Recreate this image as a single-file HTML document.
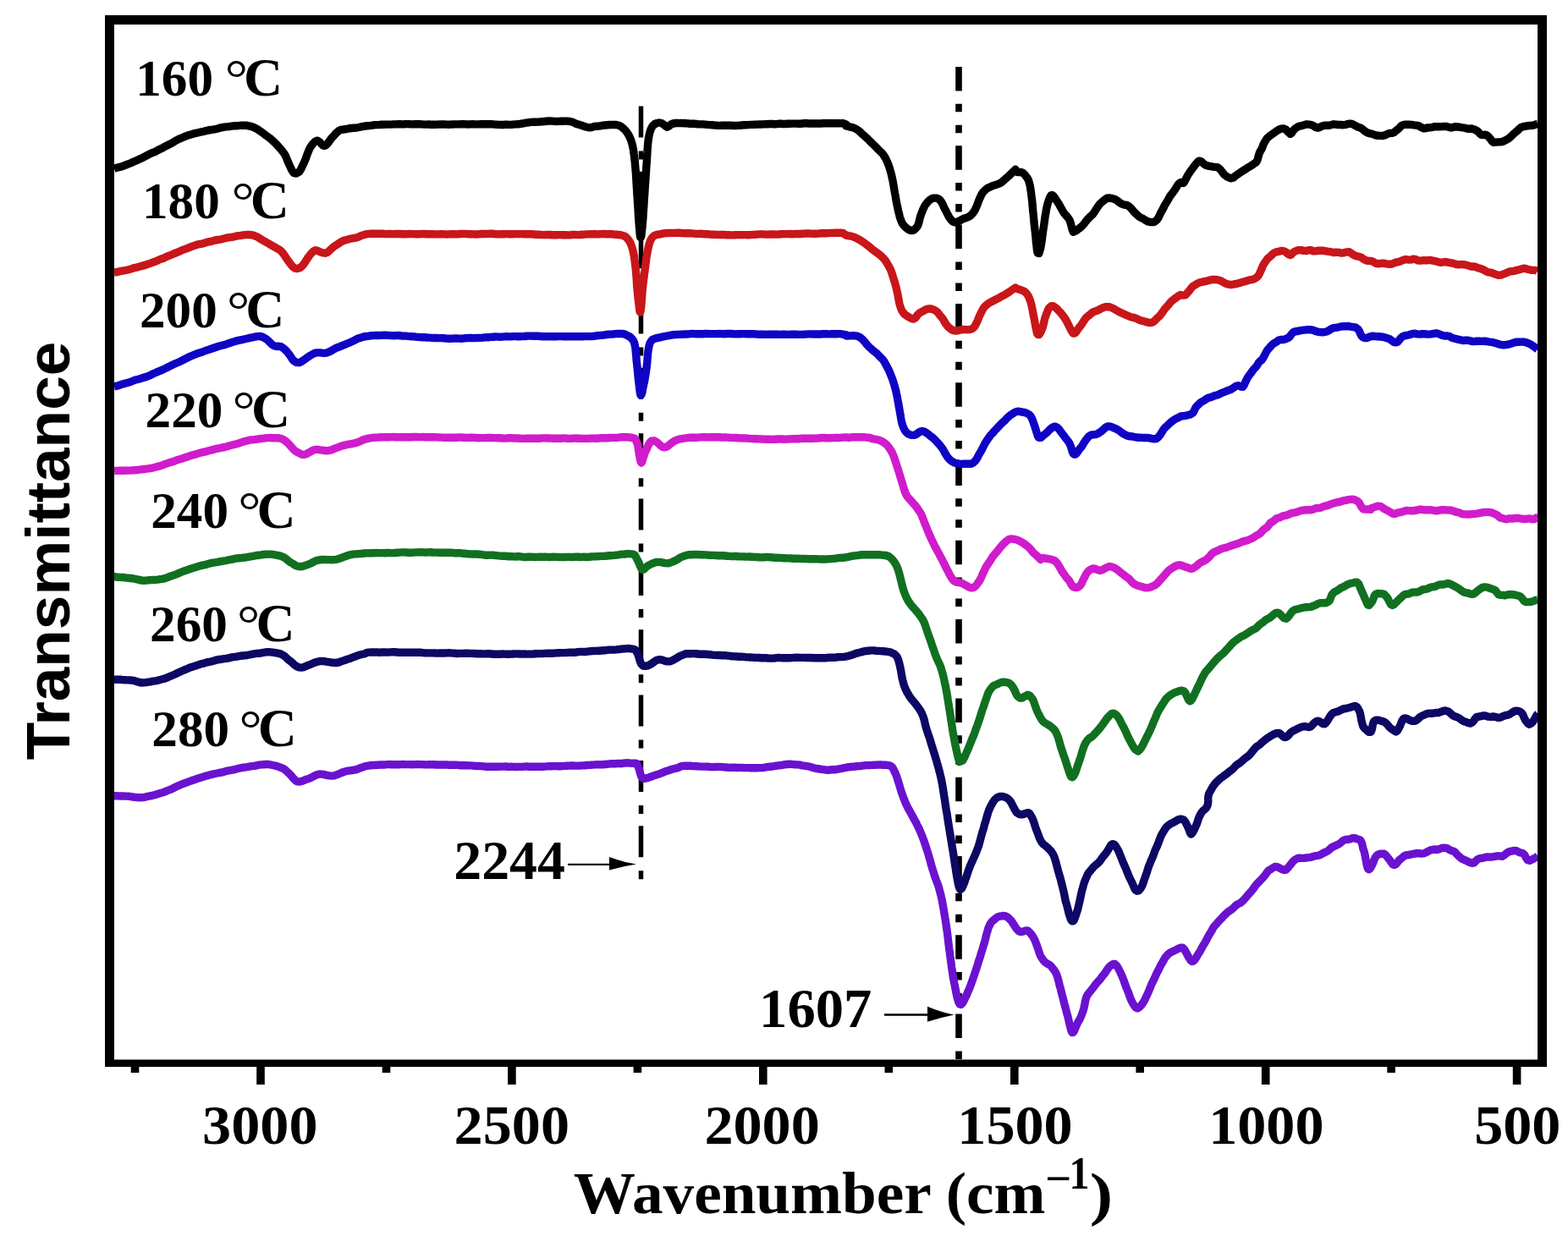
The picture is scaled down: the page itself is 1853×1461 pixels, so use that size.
<!DOCTYPE html>
<html><head><meta charset="utf-8"><title>FTIR spectra</title>
<style>html,body{margin:0;padding:0;background:#fff;overflow:hidden}svg{display:block;filter:blur(0.45px)}</style>
</head><body>
<svg xmlns="http://www.w3.org/2000/svg" width="1853" height="1461" viewBox="0 0 1853 1461"><line x1="757.5" y1="125.5" x2="757.5" y2="1039.5" stroke="#000" stroke-width="5.5" stroke-dasharray="37 16 10 14.34"/>
<line x1="1133" y1="79" x2="1133" y2="1252" stroke="#000" stroke-width="7.6" stroke-dasharray="28.5 15.3 9.5 15.5 9.5 15"/>
<path d="M134.9,199.3 L136.4,198.8 L138.3,198.1 L140.5,197.7 L143.1,197.1 L145.8,196.1 L148.7,195.0 L151.5,193.9 L154.3,192.9 L156.6,191.8 L158.9,190.7 L161.4,189.8 L163.9,188.6 L166.4,187.4 L169.0,186.2 L171.5,184.8 L174.0,183.5 L176.3,182.3 L178.6,181.2 L181.3,180.2 L183.8,179.1 L186.2,177.7 L188.6,176.5 L190.9,175.4 L193.3,174.2 L195.6,172.9 L198.0,171.7 L200.4,170.5 L202.7,169.3 L205.0,168.0 L207.3,166.6 L209.6,165.2 L212.1,164.1 L214.7,163.0 L217.4,161.9 L219.7,160.9 L222.2,160.0 L224.7,159.2 L227.4,158.4 L230.0,157.7 L232.7,157.2 L235.4,156.5 L238.1,155.8 L240.7,155.3 L243.3,154.7 L246.1,154.0 L248.9,153.5 L251.8,153.1 L254.6,152.6 L257.3,152.0 L260.0,151.2 L262.7,150.6 L265.2,150.1 L267.6,149.9 L270.6,149.6 L273.4,149.1 L276.2,148.8 L278.8,148.8 L281.2,148.6 L283.4,148.4 L285.4,148.2 L289.0,148.1 L291.5,148.3 L294.0,148.8 L296.6,149.4 L299.0,150.2 L301.6,151.3 L303.7,152.5 L305.8,153.9 L308.0,155.4 L310.2,156.9 L312.4,158.6 L314.6,160.3 L316.7,161.8 L318.9,163.4 L321.1,165.3 L323.2,167.2 L325.4,169.2 L327.5,171.5 L329.3,173.5 L331.1,175.4 L332.8,177.5 L334.5,179.6 L336.1,181.9 L337.3,184.0 L338.4,186.4 L339.4,188.9 L340.3,191.3 L341.3,193.6 L342.2,195.5 L343.5,198.2 L344.8,201.0 L346.1,203.1 L347.4,204.5 L350.3,205.0 L353.4,203.2 L354.6,201.7 L355.8,199.7 L356.9,197.3 L358.1,194.8 L359.4,192.0 L360.3,189.9 L361.3,187.6 L362.2,184.9 L363.2,182.1 L364.3,179.4 L365.3,176.8 L366.4,174.6 L368.4,171.6 L370.6,169.0 L372.8,167.1 L375.0,166.2 L377.1,167.3 L379.3,169.6 L381.4,171.7 L383.6,172.4 L385.3,171.5 L387.1,169.7 L388.8,167.4 L390.6,164.9 L392.3,162.7 L394.5,160.4 L396.6,158.0 L398.8,155.9 L400.9,154.3 L403.4,153.2 L406.0,153.0 L409.5,152.5 L411.9,152.0 L414.8,151.5 L417.9,151.3 L421.0,151.1 L424.1,150.5 L426.8,149.9 L429.5,149.3 L431.6,149.0 L433.8,148.8 L436.4,148.6 L440.0,148.2 L441.9,147.8 L444.0,147.6 L446.2,147.6 L448.4,147.5 L450.8,147.3 L453.4,147.2 L456.1,147.1 L458.9,147.1 L462.0,147.1 L465.2,146.9 L468.6,146.9 L470.7,146.8 L472.9,146.8 L475.1,146.9 L477.5,146.8 L479.9,146.6 L482.4,146.6 L485.0,146.8 L487.6,146.9 L490.3,146.8 L492.9,146.7 L495.7,146.8 L498.4,146.9 L501.1,147.1 L503.8,147.1 L506.5,147.0 L509.2,147.2 L511.9,147.3 L514.5,147.2 L517.1,147.1 L519.7,147.0 L522.3,147.0 L524.9,147.0 L527.5,147.1 L530.1,147.2 L532.7,147.1 L535.3,147.0 L538.0,146.9 L540.6,146.9 L543.2,146.9 L545.8,146.8 L548.4,146.8 L550.9,146.9 L553.5,147.0 L556.0,146.9 L558.5,146.8 L560.9,146.9 L563.3,146.9 L565.7,146.9 L568.5,146.7 L571.3,146.6 L574.0,146.7 L576.8,146.8 L579.5,146.7 L582.2,146.8 L584.9,147.1 L587.5,147.3 L590.0,147.4 L592.6,147.5 L595.0,147.5 L597.4,147.3 L599.7,147.3 L602.0,147.4 L604.1,147.4 L606.2,147.1 L609.5,146.9 L612.4,146.8 L615.0,146.4 L617.3,146.0 L619.6,145.7 L621.9,145.2 L624.4,144.8 L627.3,144.4 L630.5,144.2 L632.7,144.2 L635.1,144.1 L637.7,144.0 L640.5,143.8 L643.3,143.5 L646.2,143.2 L649.1,143.0 L652.1,143.1 L654.9,143.4 L657.7,143.5 L660.4,143.4 L663.0,143.3 L665.3,143.2 L667.4,143.1 L669.3,143.1 L673.5,143.5 L676.3,144.2 L678.2,145.0 L680.0,146.0 L682.3,146.8 L684.7,147.4 L687.3,148.2 L689.9,149.2 L692.4,150.0 L694.7,150.5 L696.8,150.8 L699.4,150.6 L701.3,149.7 L704.9,149.1 L706.9,149.2 L709.3,148.8 L712.0,148.3 L714.9,148.0 L717.9,147.7 L720.8,147.5 L723.6,147.5 L726.2,147.4 L728.3,147.5 L731.4,148.3 L733.8,149.5 L735.8,151.0 L737.6,152.7 L739.4,154.5 L740.9,156.5 L742.3,158.6 L743.6,160.8 L744.7,163.4 L745.8,166.1 L746.8,169.3 L747.4,171.7 L747.9,174.1 L748.4,176.5 L748.8,179.1 L749.1,181.6 L749.5,184.2 L749.8,187.3 L750.2,190.6 L750.5,194.0 L750.7,196.3 L750.9,198.7 L751.1,201.0 L751.3,203.5 L751.5,206.0 L751.7,208.7 L751.8,211.4 L752.0,214.3 L752.2,217.2 L752.3,220.0 L752.5,222.8 L752.7,225.6 L752.8,228.4 L753.0,231.1 L753.2,233.8 L753.4,236.4 L753.5,239.1 L753.7,242.0 L753.9,245.0 L754.1,247.8 L754.3,250.8 L754.4,253.8 L754.6,256.6 L754.8,259.1 L754.9,261.4 L755.1,263.7 L755.3,266.0 L755.4,267.9 L755.8,272.3 L756.1,276.1 L756.4,278.8 L756.7,280.4 L757.0,280.9 L757.4,280.4 L757.8,278.8 L758.2,275.9 L758.6,272.1 L759.1,267.7 L759.3,266.0 L759.4,263.7 L759.6,261.5 L759.8,259.2 L760.0,256.5 L760.1,253.7 L760.3,250.8 L760.5,247.9 L760.7,245.1 L760.9,242.3 L761.1,239.4 L761.2,236.5 L761.4,233.7 L761.6,231.1 L761.8,228.6 L762.0,225.8 L762.1,223.0 L762.3,220.1 L762.5,217.3 L762.7,214.6 L762.9,212.1 L763.0,209.4 L763.2,206.8 L763.4,204.2 L763.6,201.6 L763.7,199.0 L763.9,196.5 L764.1,194.1 L764.3,191.2 L764.5,188.3 L764.6,185.5 L764.8,182.7 L765.0,179.7 L765.1,177.0 L765.3,174.5 L765.5,172.2 L765.7,169.6 L766.0,167.2 L766.2,165.1 L766.5,163.2 L767.2,159.5 L767.9,156.5 L768.7,154.1 L769.6,151.9 L770.5,150.1 L771.5,148.6 L773.9,146.5 L776.6,145.5 L779.0,145.0 L781.7,145.5 L784.0,146.9 L786.3,148.8 L788.5,150.3 L790.7,149.0 L793.0,147.0 L795.6,146.0 L799.0,145.5 L800.5,145.5 L801.8,145.6 L804.5,145.5 L810.0,145.7 L811.7,145.9 L813.5,146.0 L815.6,146.2 L817.8,146.3 L820.1,146.3 L822.6,146.5 L825.1,146.9 L827.8,146.9 L830.6,146.9 L833.4,147.1 L836.2,147.4 L839.1,147.6 L842.0,147.8 L844.9,148.1 L847.7,148.3 L850.5,148.4 L853.3,148.3 L856.0,148.3 L858.6,148.3 L861.2,148.2 L863.7,148.3 L866.3,148.5 L868.8,148.5 L871.4,148.4 L873.9,148.3 L876.5,148.0 L879.0,147.8 L881.6,147.8 L884.1,147.6 L886.7,147.4 L889.2,147.4 L891.8,147.2 L894.3,147.1 L896.9,147.0 L899.4,147.0 L902.0,146.9 L904.5,146.8 L907.1,146.7 L909.7,146.5 L912.3,146.5 L914.9,146.7 L917.5,146.7 L920.1,146.3 L922.7,146.3 L925.3,146.5 L928.0,146.5 L930.6,146.3 L933.2,146.2 L935.8,146.1 L938.4,146.1 L940.9,146.1 L943.5,146.2 L946.0,146.2 L948.5,146.0 L950.9,145.8 L953.3,145.8 L955.7,146.0 L958.5,146.0 L961.4,145.9 L964.3,146.0 L967.3,146.0 L970.2,146.0 L973.1,145.8 L976.0,145.7 L978.8,145.7 L981.5,145.8 L984.1,145.8 L986.5,145.7 L988.8,145.7 L991.0,145.8 L992.9,145.9 L994.7,145.8 L996.2,145.7 L1000.0,147.2 L1000.0,149.0 L1002.2,149.5 L1005.0,150.1 L1007.9,150.8 L1010.8,152.0 L1013.0,153.3 L1015.1,154.8 L1017.3,156.8 L1019.4,158.9 L1021.6,160.7 L1023.4,162.3 L1025.2,164.0 L1027.0,165.8 L1028.8,167.6 L1030.6,169.4 L1032.4,171.1 L1034.3,172.9 L1036.2,175.0 L1038.1,176.9 L1039.9,178.6 L1041.7,180.3 L1043.2,181.9 L1044.8,184.2 L1046.2,186.5 L1047.4,188.9 L1048.5,191.2 L1049.6,193.9 L1050.5,196.4 L1051.3,198.8 L1052.0,201.3 L1052.7,203.8 L1053.4,206.3 L1054.0,208.9 L1054.6,211.7 L1055.2,214.5 L1055.7,217.4 L1056.2,220.3 L1056.7,223.4 L1057.2,226.3 L1057.6,228.6 L1058.1,231.1 L1058.5,233.7 L1058.9,236.4 L1059.4,238.8 L1059.9,241.2 L1060.4,243.8 L1061.0,246.4 L1061.5,249.0 L1062.1,251.6 L1062.8,254.1 L1063.4,256.6 L1064.1,258.8 L1064.8,260.8 L1066.4,264.2 L1068.2,266.6 L1070.2,268.6 L1072.6,270.6 L1075.2,272.1 L1077.7,272.6 L1080.0,271.9 L1082.2,270.0 L1084.2,267.4 L1085.2,265.3 L1086.0,262.5 L1086.7,259.5 L1087.5,256.4 L1088.5,253.5 L1089.6,250.6 L1090.8,247.6 L1092.1,244.8 L1093.5,242.3 L1095.0,240.3 L1097.0,238.0 L1099.2,236.0 L1101.5,234.7 L1103.6,234.1 L1106.3,234.1 L1108.9,234.9 L1111.2,236.9 L1112.7,239.0 L1114.0,241.4 L1115.2,244.2 L1116.6,247.1 L1117.8,249.2 L1119.1,251.8 L1120.5,254.6 L1121.8,256.9 L1123.0,258.7 L1125.6,261.7 L1128.4,262.9 L1130.7,262.5 L1133.2,261.3 L1136.0,259.8 L1138.4,258.6 L1140.9,257.8 L1143.5,256.9 L1145.7,255.7 L1147.6,254.2 L1149.2,252.5 L1150.7,250.6 L1152.2,248.2 L1153.3,245.8 L1154.4,243.3 L1155.4,240.6 L1156.5,237.6 L1157.6,234.9 L1158.8,232.4 L1160.0,229.8 L1161.3,227.7 L1162.6,226.2 L1164.1,224.7 L1166.7,222.6 L1169.6,221.2 L1172.7,219.8 L1175.3,218.9 L1178.1,218.1 L1180.9,217.0 L1183.5,215.6 L1185.8,213.7 L1188.0,211.6 L1190.1,209.7 L1192.1,208.1 L1194.3,205.9 L1196.5,203.7 L1198.5,201.8 L1200.0,200.3 L1201.5,203.3 L1203.6,203.6 L1206.4,203.5 L1209.0,204.5 L1210.8,206.3 L1212.5,208.4 L1214.1,210.5 L1215.5,213.2 L1216.2,215.6 L1216.8,217.9 L1217.4,220.5 L1217.8,223.4 L1218.3,226.3 L1218.7,229.5 L1219.0,232.0 L1219.3,234.3 L1219.6,236.5 L1219.9,239.3 L1220.1,242.3 L1220.4,245.2 L1220.6,248.2 L1220.9,251.0 L1221.2,253.4 L1221.4,256.0 L1221.7,258.7 L1221.9,261.6 L1222.2,264.5 L1222.5,267.0 L1222.8,269.7 L1223.1,272.6 L1223.4,275.0 L1223.7,277.9 L1224.0,281.1 L1224.3,284.5 L1224.6,287.7 L1225.0,290.6 L1225.3,293.8 L1225.6,296.7 L1226.0,298.3 L1226.3,299.1 L1227.9,299.4 L1229.5,294.2 L1229.9,292.3 L1230.3,289.8 L1230.7,287.4 L1231.1,284.7 L1231.6,281.3 L1232.0,277.9 L1232.4,275.0 L1232.8,272.2 L1233.2,269.4 L1233.6,266.7 L1234.0,264.0 L1234.4,261.1 L1234.8,258.0 L1235.2,255.2 L1235.6,253.1 L1236.0,250.9 L1236.6,247.2 L1237.3,243.9 L1237.9,241.3 L1238.6,239.1 L1239.3,237.0 L1240.6,233.5 L1242.0,230.9 L1243.6,230.6 L1245.0,231.8 L1246.6,233.9 L1248.3,236.6 L1250.0,239.1 L1251.5,241.3 L1253.0,244.2 L1254.6,247.1 L1256.1,249.8 L1257.6,252.1 L1259.4,254.1 L1261.1,256.1 L1262.7,258.1 L1264.1,260.4 L1265.1,263.3 L1266.0,266.7 L1266.8,270.0 L1267.6,272.6 L1268.4,274.3 L1272.7,272.0 L1274.5,270.6 L1276.6,269.1 L1278.9,267.0 L1281.3,264.3 L1283.0,262.0 L1284.8,259.8 L1286.7,257.8 L1288.6,255.8 L1290.4,254.2 L1292.1,252.4 L1294.0,249.6 L1295.8,246.7 L1297.5,244.1 L1299.2,241.7 L1300.8,240.0 L1303.3,237.9 L1305.7,236.0 L1308.3,234.3 L1311.4,234.0 L1314.8,234.7 L1318.0,235.7 L1320.3,237.2 L1322.5,239.0 L1324.6,240.4 L1326.7,241.5 L1329.3,242.2 L1331.7,242.5 L1334.2,243.8 L1336.1,245.6 L1337.9,247.7 L1339.8,250.1 L1341.8,252.1 L1343.9,254.0 L1346.0,255.9 L1348.1,257.3 L1350.4,258.3 L1352.8,259.7 L1355.4,261.4 L1357.9,262.2 L1360.1,262.6 L1363.6,262.5 L1366.6,260.5 L1368.0,258.9 L1369.3,256.8 L1370.6,253.9 L1372.0,250.9 L1373.2,249.0 L1374.5,246.6 L1375.8,243.9 L1377.1,241.4 L1378.5,239.2 L1379.9,237.0 L1381.4,234.2 L1382.8,231.7 L1384.4,229.7 L1386.0,227.6 L1387.8,225.2 L1389.8,222.0 L1391.7,218.9 L1393.5,216.8 L1395.0,215.6 L1398.6,216.4 L1399.8,214.6 L1401.2,211.9 L1402.7,209.0 L1404.4,206.0 L1406.2,203.3 L1407.8,201.1 L1409.6,198.7 L1411.5,196.1 L1413.4,193.7 L1415.3,191.5 L1417.0,190.1 L1419.2,190.5 L1421.2,192.3 L1423.2,194.2 L1425.6,195.5 L1428.0,196.2 L1430.7,196.6 L1433.5,197.1 L1436.2,197.4 L1438.6,197.7 L1441.1,199.4 L1443.2,201.7 L1445.2,204.4 L1447.2,206.8 L1449.8,208.7 L1452.2,209.9 L1454.8,210.8 L1457.5,210.0 L1460.3,207.7 L1463.4,205.4 L1465.4,204.2 L1467.6,202.7 L1469.9,201.2 L1472.1,199.9 L1474.2,198.3 L1476.8,196.9 L1479.4,195.3 L1481.8,193.6 L1483.9,192.3 L1485.3,190.8 L1486.4,187.7 L1487.3,184.1 L1488.3,181.0 L1489.3,178.8 L1490.3,177.2 L1491.3,175.6 L1492.3,172.8 L1493.4,169.8 L1494.7,167.6 L1496.2,165.3 L1497.8,162.9 L1499.5,161.4 L1501.4,160.1 L1503.3,158.6 L1506.0,156.8 L1508.9,154.7 L1511.7,153.0 L1514.1,152.1 L1517.1,151.9 L1519.5,153.0 L1522.2,156.0 L1524.9,158.3 L1526.5,157.2 L1528.1,154.7 L1530.3,152.2 L1532.7,150.4 L1535.5,149.1 L1538.4,148.6 L1541.1,147.7 L1544.2,146.9 L1547.0,147.2 L1549.7,147.6 L1552.2,148.7 L1554.6,150.4 L1557.3,151.1 L1559.8,150.4 L1562.5,149.0 L1565.3,148.2 L1568.1,148.3 L1570.8,148.2 L1573.5,147.5 L1576.2,146.8 L1578.9,147.1 L1581.7,147.5 L1584.5,147.5 L1587.3,147.7 L1590.0,147.4 L1592.6,146.6 L1595.2,146.1 L1597.7,146.4 L1600.1,147.6 L1602.4,148.9 L1604.5,150.0 L1606.8,150.7 L1609.3,152.0 L1611.6,153.9 L1614.1,155.8 L1616.7,157.2 L1619.4,157.9 L1622.1,158.5 L1624.9,159.6 L1627.9,160.3 L1631.0,160.4 L1634.0,160.6 L1636.8,159.8 L1639.5,158.4 L1642.2,157.5 L1644.8,157.4 L1647.3,156.6 L1649.6,154.7 L1652.0,152.8 L1654.1,150.8 L1656.2,148.6 L1658.8,147.4 L1661.5,147.1 L1664.5,147.2 L1667.8,147.4 L1670.8,147.9 L1673.5,148.2 L1676.6,148.7 L1679.2,150.4 L1682.7,151.9 L1684.8,151.6 L1687.3,150.9 L1689.9,150.9 L1692.7,150.4 L1695.5,149.6 L1698.3,149.8 L1701.0,149.8 L1703.7,149.6 L1706.5,149.4 L1709.4,149.5 L1712.2,150.4 L1714.8,151.0 L1717.3,150.4 L1719.4,149.8 L1723.0,150.0 L1725.5,150.4 L1728.5,150.9 L1730.9,151.2 L1733.6,152.0 L1736.3,152.2 L1739.0,152.0 L1741.4,152.7 L1744.0,153.8 L1746.3,155.3 L1748.5,157.6 L1750.6,159.4 L1753.2,159.6 L1755.5,159.1 L1757.9,160.4 L1759.7,162.3 L1761.5,164.4 L1763.3,167.0 L1765.2,168.4 L1768.0,168.1 L1770.8,167.9 L1773.5,167.9 L1776.5,167.2 L1779.9,165.3 L1781.8,164.3 L1784.0,162.8 L1786.3,160.7 L1788.6,158.3 L1790.9,156.4 L1793.0,154.7 L1795.1,152.5 L1797.2,150.7 L1799.4,149.9 L1801.9,149.3 L1804.4,148.8 L1807.2,148.5 L1810.1,148.4 L1812.9,147.8 L1815.3,146.9 L1817.0,146.6" fill="none" stroke="#000000" stroke-width="9.4" stroke-linejoin="round" stroke-linecap="butt"/>
<path d="M134.9,322.0 L136.6,321.8 L138.9,321.4 L141.6,320.7 L144.6,320.1 L147.8,319.6 L151.1,319.0 L154.3,318.1 L156.5,317.3 L158.8,316.6 L161.2,316.2 L163.7,315.5 L166.1,314.8 L168.6,314.1 L171.2,313.4 L173.7,312.6 L176.1,311.8 L178.6,310.9 L181.0,310.0 L183.5,309.1 L185.9,308.1 L188.3,306.9 L190.8,306.0 L193.2,305.2 L195.6,304.0 L198.0,302.9 L200.5,302.0 L202.9,301.0 L205.3,299.9 L207.7,299.0 L210.2,298.0 L212.6,296.9 L215.0,295.8 L217.4,294.9 L219.8,294.1 L222.3,293.1 L224.7,292.1 L227.1,291.2 L229.5,290.4 L232.0,289.6 L234.4,288.8 L236.8,288.4 L239.2,288.0 L241.7,287.3 L244.1,286.4 L246.5,285.9 L249.0,285.4 L251.4,284.7 L254.1,284.0 L257.0,283.5 L259.8,283.1 L262.6,282.5 L265.5,281.8 L268.2,281.1 L270.8,280.6 L273.4,280.4 L275.7,280.0 L278.9,279.2 L281.9,278.6 L284.7,278.3 L287.3,277.9 L289.7,277.6 L291.9,277.5 L295.4,277.5 L298.2,277.8 L301.6,279.0 L303.7,279.9 L306.0,281.1 L308.5,282.8 L311.0,284.3 L313.6,285.7 L316.2,287.2 L318.5,288.5 L320.9,290.0 L323.5,291.4 L325.9,292.8 L328.3,294.2 L330.5,295.4 L332.4,297.0 L334.5,299.3 L336.2,301.7 L337.6,304.0 L339.0,306.1 L340.5,308.2 L342.5,310.9 L344.6,313.6 L346.6,315.8 L348.6,317.1 L351.3,317.5 L353.9,316.8 L356.6,314.9 L358.2,313.3 L359.8,311.0 L361.5,308.4 L363.1,305.8 L364.7,303.5 L366.6,301.0 L368.5,298.8 L370.5,296.9 L372.8,295.8 L375.5,296.3 L378.4,297.8 L381.4,298.9 L384.2,299.2 L386.7,298.4 L389.1,296.6 L391.4,294.2 L393.9,292.0 L396.0,290.5 L398.1,289.2 L400.3,287.8 L402.6,286.2 L405.2,284.8 L407.6,284.0 L410.3,283.3 L413.1,282.5 L415.9,281.8 L418.7,281.3 L421.4,280.8 L423.6,280.2 L425.2,279.3 L426.8,278.6 L428.8,277.9 L431.8,277.0 L436.2,276.4 L437.9,276.3 L439.8,276.3 L441.8,276.2 L443.9,276.2 L446.2,276.2 L448.5,276.3 L450.9,276.2 L453.5,276.3 L456.1,276.6 L458.7,276.5 L461.5,276.4 L464.3,276.6 L467.1,276.5 L470.0,276.5 L472.9,276.5 L475.9,276.7 L478.8,276.8 L481.8,276.6 L484.8,276.5 L487.1,276.6 L489.4,276.6 L491.8,276.7 L494.2,276.7 L496.7,276.6 L499.2,276.4 L501.7,276.5 L504.3,276.8 L506.9,276.8 L509.5,276.7 L512.2,276.7 L514.8,276.9 L517.5,276.9 L520.2,276.8 L522.8,276.8 L525.5,276.9 L528.2,277.0 L530.9,276.9 L533.6,276.8 L536.3,276.8 L539.0,276.9 L541.6,276.7 L544.3,276.5 L546.9,276.4 L549.5,276.4 L552.1,276.6 L554.7,276.8 L557.4,276.8 L560.0,276.9 L562.7,277.0 L565.4,276.8 L568.1,276.5 L570.8,276.4 L573.5,276.5 L576.2,276.4 L578.9,276.3 L581.6,276.3 L584.2,276.5 L586.9,276.8 L589.5,276.9 L592.2,276.8 L594.8,276.8 L597.3,276.6 L599.9,276.6 L602.4,276.8 L604.9,276.8 L607.3,276.6 L609.7,276.6 L612.0,276.6 L614.3,276.6 L617.2,276.6 L620.1,276.8 L622.9,276.8 L625.6,276.8 L628.3,276.8 L630.9,277.0 L633.4,277.2 L635.9,277.2 L638.4,277.3 L640.9,277.6 L643.3,277.6 L645.7,277.5 L648.1,277.4 L650.5,277.5 L653.0,277.7 L655.4,277.7 L657.8,277.7 L660.3,277.6 L662.8,277.6 L665.5,277.7 L668.2,277.8 L671.0,277.9 L673.8,277.7 L676.7,277.4 L679.5,277.4 L682.3,277.6 L685.2,277.5 L688.0,277.3 L690.7,277.1 L693.4,276.9 L696.1,276.9 L698.6,276.8 L701.1,276.8 L703.5,276.8 L705.8,276.9 L708.0,276.8 L710.0,276.6 L713.7,276.5 L717.1,276.7 L720.1,276.7 L722.9,276.7 L725.4,277.0 L727.7,277.2 L729.8,277.3 L731.7,277.5 L733.6,277.8 L737.0,278.7 L739.4,280.0 L741.2,281.7 L742.9,283.8 L744.2,285.7 L745.3,288.0 L746.3,290.6 L747.2,293.4 L748.0,296.4 L748.5,298.5 L748.9,300.8 L749.4,303.2 L749.7,305.6 L750.1,308.2 L750.4,311.0 L750.8,313.7 L751.1,316.6 L751.3,319.1 L751.6,321.5 L751.8,324.1 L752.0,327.0 L752.2,329.9 L752.4,332.7 L752.5,335.3 L752.7,337.8 L752.9,340.2 L753.1,342.5 L753.4,345.3 L753.7,348.0 L753.9,350.8 L754.2,353.4 L754.5,355.8 L754.8,357.8 L755.0,359.7 L755.5,364.2 L756.0,367.7 L756.5,369.0 L757.0,367.7 L757.5,364.5 L758.0,360.0 L758.2,357.9 L758.3,355.8 L758.5,353.4 L758.6,350.9 L758.8,348.3 L759.0,345.4 L759.3,342.4 L759.5,340.0 L759.8,337.5 L760.1,334.9 L760.4,332.3 L760.7,329.7 L761.1,327.0 L761.4,324.3 L761.8,321.8 L762.1,319.2 L762.4,316.7 L762.8,314.0 L763.1,311.3 L763.5,308.5 L763.8,305.6 L764.2,303.1 L764.6,300.7 L765.0,298.3 L765.4,296.3 L766.1,293.1 L766.8,290.0 L767.6,287.2 L768.5,284.7 L769.5,282.7 L771.2,280.2 L773.2,278.4 L776.7,277.3 L778.7,277.1 L781.1,276.6 L783.8,276.0 L786.7,275.6 L789.6,275.5 L792.4,275.4 L795.0,275.4 L797.3,275.4 L799.8,275.2 L801.2,275.1 L802.7,275.2 L805.3,275.5 L810.0,275.7 L811.7,275.7 L813.6,275.6 L815.7,275.7 L817.9,275.9 L820.2,276.1 L822.7,276.4 L825.3,276.4 L827.9,276.3 L830.7,276.5 L833.5,276.7 L836.3,276.8 L839.2,277.1 L842.0,277.2 L844.9,277.2 L847.7,277.4 L850.6,277.5 L853.3,277.5 L856.0,277.5 L858.6,277.8 L861.2,277.8 L863.7,277.9 L866.3,277.9 L868.8,277.7 L871.4,277.6 L873.9,277.6 L876.5,277.6 L879.0,277.6 L881.6,277.6 L884.1,277.7 L886.7,277.6 L889.2,277.4 L891.8,277.3 L894.3,277.1 L896.9,276.9 L899.4,276.9 L902.0,276.9 L904.5,277.1 L907.1,277.1 L909.7,277.0 L912.3,276.9 L914.9,277.0 L917.5,277.1 L920.1,277.0 L922.7,276.8 L925.3,276.6 L928.0,276.6 L930.6,276.6 L933.2,276.5 L935.8,276.7 L938.4,276.6 L940.9,276.4 L943.5,276.5 L946.0,276.5 L948.5,276.2 L950.9,276.1 L953.3,276.0 L955.7,276.0 L958.5,276.1 L961.4,276.3 L964.3,276.2 L967.3,276.1 L970.2,275.8 L973.1,275.7 L976.0,275.7 L978.8,275.6 L981.5,275.4 L984.1,275.4 L986.5,275.3 L988.8,275.3 L991.0,275.3 L992.9,275.2 L994.7,275.3 L996.2,275.5 L1000.0,278.1 L1002.2,278.6 L1005.0,279.0 L1007.9,279.8 L1010.8,280.9 L1013.0,282.0 L1015.1,283.2 L1017.3,284.4 L1019.4,285.7 L1021.6,287.4 L1023.8,288.9 L1025.9,290.5 L1028.1,292.3 L1030.2,294.2 L1032.4,295.9 L1034.6,297.5 L1036.9,299.1 L1039.1,300.8 L1041.3,302.6 L1043.2,304.5 L1044.9,306.3 L1046.5,308.3 L1048.0,310.7 L1049.4,313.1 L1050.7,315.4 L1051.7,317.2 L1052.7,319.4 L1053.6,321.9 L1054.5,324.5 L1055.3,327.1 L1056.1,329.7 L1056.9,332.2 L1057.7,334.7 L1058.4,337.3 L1059.1,340.1 L1059.8,343.1 L1060.4,345.8 L1061.0,348.5 L1061.5,351.4 L1062.0,354.3 L1062.5,356.9 L1063.0,359.3 L1063.7,361.7 L1064.8,364.8 L1065.9,367.3 L1067.3,369.5 L1069.1,371.5 L1071.5,373.3 L1074.4,375.1 L1077.4,376.6 L1079.9,377.0 L1082.2,375.4 L1084.0,372.6 L1086.3,370.2 L1088.7,368.9 L1091.6,367.3 L1094.4,365.7 L1097.1,364.9 L1100.2,365.0 L1103.1,365.9 L1105.8,367.3 L1107.8,368.9 L1109.7,371.2 L1111.5,373.6 L1113.3,375.7 L1115.0,378.2 L1116.5,380.9 L1118.1,383.4 L1119.8,385.5 L1122.2,387.8 L1124.8,389.8 L1127.4,390.9 L1130.0,391.0 L1132.8,390.5 L1136.0,389.8 L1138.4,389.5 L1141.2,389.6 L1144.1,389.7 L1146.7,389.4 L1148.9,388.6 L1151.2,386.7 L1152.7,384.4 L1154.3,381.2 L1155.3,379.1 L1156.3,376.6 L1157.4,373.8 L1158.5,371.4 L1159.6,369.2 L1160.8,366.8 L1162.5,363.9 L1164.3,361.8 L1166.2,360.2 L1168.4,358.4 L1170.9,357.1 L1173.6,355.8 L1176.4,354.2 L1179.2,352.8 L1181.4,351.6 L1183.6,350.3 L1185.7,349.3 L1187.9,348.1 L1190.0,346.8 L1192.8,345.0 L1195.6,343.0 L1198.1,341.2 L1200.0,340.1 L1201.5,341.2 L1203.4,341.7 L1206.0,342.6 L1208.8,343.7 L1211.2,345.0 L1212.7,346.4 L1214.1,348.1 L1215.4,350.2 L1216.6,353.1 L1217.7,356.2 L1218.4,358.5 L1219.1,361.2 L1219.7,364.2 L1220.3,366.9 L1220.8,369.9 L1221.4,373.1 L1222.0,375.8 L1222.6,378.8 L1223.2,382.4 L1223.8,385.7 L1224.4,388.6 L1225.0,391.5 L1225.6,394.1 L1226.3,395.5 L1228.1,395.6 L1229.9,392.7 L1231.7,388.5 L1232.5,386.2 L1233.1,383.5 L1233.8,380.7 L1234.4,377.9 L1235.2,374.9 L1236.0,372.8 L1237.1,370.1 L1238.3,366.7 L1239.6,364.3 L1241.0,362.9 L1242.5,361.7 L1244.5,361.8 L1246.6,363.1 L1248.8,364.8 L1251.1,367.2 L1252.7,368.9 L1254.3,370.8 L1256.0,372.9 L1257.7,375.1 L1259.3,377.6 L1260.8,380.3 L1262.2,383.0 L1263.5,385.7 L1264.8,388.3 L1266.0,390.7 L1267.2,392.7 L1268.4,394.0 L1270.6,393.8 L1272.6,391.0 L1274.9,387.6 L1276.4,385.9 L1278.0,383.7 L1279.7,381.1 L1281.5,378.3 L1283.5,375.6 L1285.6,373.8 L1287.9,372.0 L1290.3,369.9 L1292.8,368.4 L1295.4,367.6 L1298.0,366.5 L1300.8,365.0 L1303.6,363.6 L1306.5,362.8 L1309.4,362.6 L1311.8,363.0 L1314.3,364.0 L1316.8,365.2 L1319.3,366.7 L1321.9,368.3 L1324.5,369.6 L1327.2,370.7 L1330.0,372.0 L1332.9,373.3 L1335.7,374.5 L1338.3,375.2 L1340.7,375.7 L1343.8,376.9 L1346.5,378.3 L1349.0,379.2 L1351.5,379.7 L1354.9,380.6 L1358.1,381.5 L1361.2,381.3 L1363.4,380.2 L1365.6,378.1 L1367.8,375.8 L1369.9,374.0 L1371.6,372.1 L1373.3,369.7 L1375.1,367.2 L1376.8,364.7 L1378.5,362.9 L1380.7,360.6 L1382.8,357.8 L1385.0,355.5 L1387.1,353.9 L1389.9,351.9 L1392.5,349.9 L1395.0,348.5 L1397.7,349.1 L1400.8,348.8 L1402.3,347.2 L1404.0,345.3 L1405.9,343.1 L1407.8,340.5 L1409.7,338.4 L1411.6,337.3 L1414.2,335.7 L1416.7,334.3 L1419.3,333.6 L1422.4,332.9 L1424.9,332.4 L1427.6,331.7 L1430.5,330.9 L1433.4,330.4 L1436.2,330.5 L1438.6,330.7 L1441.7,331.5 L1444.3,332.8 L1446.8,334.3 L1449.4,335.5 L1452.0,336.2 L1454.6,336.6 L1457.3,336.2 L1460.2,335.6 L1462.8,335.1 L1465.7,334.2 L1468.7,333.3 L1471.6,332.6 L1474.2,331.7 L1477.3,330.8 L1480.2,330.4 L1482.8,329.4 L1485.0,328.0 L1486.9,326.1 L1488.1,324.0 L1489.3,321.5 L1490.3,319.3 L1491.2,317.1 L1492.2,314.6 L1493.6,312.0 L1495.1,309.8 L1496.8,307.2 L1498.6,305.1 L1500.5,303.7 L1502.3,302.0 L1505.2,299.2 L1508.0,297.9 L1510.9,297.4 L1513.9,296.5 L1516.9,296.6 L1519.5,297.9 L1522.4,300.4 L1524.9,301.6 L1526.3,300.7 L1527.7,298.9 L1530.3,297.1 L1532.4,296.3 L1534.9,295.6 L1537.7,295.6 L1540.7,296.4 L1543.7,296.5 L1546.5,295.6 L1549.2,295.7 L1551.9,296.8 L1554.6,296.9 L1557.3,296.2 L1560.0,296.1 L1562.7,296.2 L1565.5,296.6 L1568.3,297.1 L1571.1,297.4 L1573.9,298.0 L1576.5,298.6 L1578.9,298.2 L1582.2,298.4 L1585.2,299.1 L1587.8,298.9 L1590.0,298.1 L1594.4,297.7 L1596.3,298.9 L1598.6,300.7 L1601.1,302.1 L1603.9,302.9 L1606.9,303.5 L1609.2,304.7 L1611.6,306.4 L1614.2,307.7 L1616.8,308.4 L1619.5,308.4 L1622.1,309.0 L1624.7,310.6 L1627.2,311.6 L1629.8,311.7 L1632.3,311.3 L1634.9,311.2 L1637.4,311.7 L1640.0,312.1 L1642.5,312.3 L1645.0,312.0 L1647.6,310.9 L1650.1,310.0 L1652.7,309.6 L1655.2,308.8 L1657.8,307.6 L1660.3,306.7 L1662.8,306.8 L1665.4,307.1 L1667.9,306.8 L1670.5,306.2 L1673.0,306.7 L1675.6,307.8 L1678.1,308.2 L1680.6,307.9 L1683.2,307.6 L1685.7,307.9 L1688.3,307.6 L1690.8,307.5 L1693.4,308.2 L1695.9,308.6 L1698.4,309.2 L1701.0,310.0 L1703.5,310.2 L1706.1,309.8 L1708.6,309.5 L1711.2,310.1 L1713.7,310.7 L1716.2,311.0 L1718.8,311.7 L1721.3,312.5 L1723.9,312.7 L1726.4,312.6 L1729.0,312.6 L1731.5,313.0 L1734.0,313.5 L1736.5,314.5 L1738.9,315.1 L1741.4,314.9 L1744.0,315.6 L1746.6,316.7 L1749.3,317.4 L1751.6,318.2 L1753.9,319.3 L1756.4,320.9 L1759.0,321.9 L1761.5,322.1 L1764.0,322.8 L1766.4,323.8 L1768.6,324.6 L1770.7,325.3 L1774.0,325.1 L1776.8,324.0 L1779.4,323.0 L1782.0,321.8 L1785.0,320.8 L1787.4,320.6 L1789.9,320.1 L1792.6,319.4 L1795.2,318.7 L1797.9,317.9 L1800.4,317.2 L1802.8,317.5 L1806.1,318.5 L1809.4,319.2 L1812.5,319.4 L1815.1,319.6 L1817.0,320.8" fill="none" stroke="#c8161a" stroke-width="9.4" stroke-linejoin="round" stroke-linecap="butt"/>
<path d="M134.9,456.9 L136.4,456.6 L138.3,456.2 L140.5,455.5 L143.1,454.6 L145.8,453.8 L148.7,453.0 L151.5,452.3 L154.3,451.4 L156.5,450.5 L158.8,449.5 L161.2,448.8 L163.7,448.2 L166.1,447.5 L168.6,446.6 L171.2,445.9 L173.7,445.2 L176.1,444.2 L178.6,443.0 L181.0,441.8 L183.5,440.7 L185.9,439.7 L188.3,438.7 L190.8,437.7 L193.2,436.6 L195.6,435.4 L198.0,434.2 L200.5,432.9 L202.9,431.8 L205.3,430.6 L207.7,429.5 L210.2,428.5 L212.6,427.4 L215.0,426.2 L217.4,425.0 L219.8,423.8 L222.3,422.5 L224.7,421.3 L227.1,420.4 L229.5,419.3 L232.0,418.3 L234.4,417.5 L236.8,416.8 L239.2,416.0 L241.7,415.0 L244.1,414.1 L246.5,413.4 L249.0,412.5 L251.4,411.6 L253.9,410.9 L256.4,410.0 L258.9,409.1 L261.5,408.5 L264.1,407.9 L266.6,407.2 L269.0,406.3 L271.4,405.5 L273.6,404.8 L275.7,404.1 L278.9,403.1 L281.8,402.4 L284.4,401.9 L286.9,401.4 L289.4,400.8 L291.9,400.2 L295.0,399.4 L298.2,398.8 L301.2,398.2 L304.0,397.6 L306.5,397.5 L309.6,398.0 L312.0,399.2 L314.6,400.8 L316.5,402.2 L318.4,404.1 L320.5,406.2 L322.4,407.9 L324.3,408.9 L327.1,409.5 L329.8,409.3 L332.4,409.9 L334.5,411.3 L336.6,413.1 L338.6,415.0 L340.5,417.2 L342.2,419.5 L343.8,421.9 L345.3,424.4 L346.9,426.3 L350.0,428.3 L353.4,428.7 L355.9,427.6 L358.5,425.8 L361.5,423.8 L363.5,422.3 L365.7,420.8 L368.0,419.5 L370.4,418.2 L372.8,417.2 L375.3,416.9 L378.0,416.9 L380.6,417.2 L383.3,417.4 L385.8,417.1 L388.1,416.3 L390.2,415.4 L392.3,414.2 L394.6,412.8 L397.1,411.4 L399.5,410.5 L402.0,409.6 L404.7,408.4 L407.5,407.3 L410.3,406.2 L413.3,405.0 L415.5,403.9 L417.6,402.9 L419.7,401.8 L421.9,400.7 L424.3,399.7 L426.9,398.9 L429.8,398.0 L433.0,397.5 L435.0,397.4 L437.0,397.0 L439.1,396.7 L441.2,396.6 L443.3,396.5 L445.6,396.5 L448.0,396.5 L450.5,396.4 L453.1,396.3 L455.8,396.2 L458.8,396.4 L461.8,396.6 L465.1,396.7 L468.6,396.6 L470.6,396.5 L472.7,396.7 L474.9,397.0 L477.1,397.1 L479.4,397.1 L481.8,397.4 L484.1,397.6 L486.6,397.7 L489.1,397.9 L491.6,398.2 L494.2,398.4 L496.8,398.6 L499.4,398.7 L502.1,398.8 L504.8,399.0 L507.6,399.1 L510.4,399.4 L513.2,399.5 L516.0,399.5 L518.9,399.6 L521.7,399.6 L524.6,399.8 L527.5,400.1 L530.4,400.2 L533.3,400.2 L535.6,400.1 L537.9,400.0 L540.3,400.0 L542.6,400.1 L545.1,400.2 L547.5,400.1 L549.9,399.7 L552.4,399.6 L554.9,399.5 L557.4,399.5 L559.9,399.6 L562.5,399.5 L565.0,399.4 L567.6,399.4 L570.2,399.2 L572.8,398.9 L575.4,398.8 L578.0,398.7 L580.6,398.4 L583.2,398.2 L585.8,398.0 L588.4,398.1 L591.1,398.2 L593.7,398.1 L596.3,397.9 L598.9,397.8 L601.5,397.9 L604.1,397.9 L606.6,397.6 L609.2,397.6 L611.8,397.8 L614.3,397.7 L616.9,397.6 L619.4,397.5 L622.1,397.3 L624.7,397.1 L627.4,397.1 L630.1,397.2 L632.9,397.3 L635.6,397.3 L638.4,397.5 L641.1,397.7 L643.9,397.8 L646.6,397.7 L649.4,397.7 L652.2,397.7 L654.9,397.8 L657.6,397.7 L660.3,397.6 L663.0,397.6 L665.6,397.7 L668.2,397.8 L670.8,397.7 L673.3,397.7 L675.8,397.8 L678.2,397.8 L680.5,397.8 L682.9,397.8 L685.1,397.8 L687.3,397.8 L689.4,397.7 L691.4,397.6 L693.3,397.6 L695.2,397.6 L699.2,397.5 L702.9,397.2 L706.2,396.7 L709.3,396.4 L712.2,396.2 L714.8,395.8 L717.3,395.5 L719.5,395.2 L721.6,395.1 L723.6,395.0 L725.4,394.8 L727.2,394.6 L728.9,394.5 L730.5,394.5 L734.9,394.5 L737.5,394.7 L739.1,395.4 L740.8,396.2 L744.3,398.0 L747.0,400.6 L748.4,402.5 L749.5,404.8 L750.4,408.6 L750.8,411.0 L751.1,413.5 L751.3,415.9 L751.6,418.8 L751.9,422.0 L752.1,425.2 L752.4,428.0 L752.7,430.4 L752.9,432.9 L753.2,435.5 L753.4,438.0 L753.7,440.4 L753.9,443.2 L754.2,446.0 L754.5,448.6 L754.8,451.5 L755.2,454.7 L755.6,458.3 L756.0,461.5 L756.4,464.2 L756.8,466.2 L757.2,467.2 L758.0,466.6 L758.9,463.8 L759.7,459.5 L760.6,455.1 L761.0,453.2 L761.5,451.0 L762.0,448.4 L762.4,445.7 L762.9,442.9 L763.3,440.1 L763.7,437.5 L764.1,434.8 L764.4,432.1 L764.7,429.5 L764.9,426.7 L765.1,423.7 L765.4,421.1 L765.6,418.5 L765.8,416.1 L766.1,414.3 L766.7,410.9 L767.2,408.3 L767.9,406.0 L768.9,404.0 L771.1,401.4 L775.0,399.9 L777.2,399.4 L779.9,398.8 L782.8,398.1 L785.9,397.5 L789.1,396.9 L792.1,396.4 L794.3,395.9 L796.1,395.7 L797.8,395.6 L799.7,395.5 L802.2,395.4 L805.5,395.2 L810.0,394.9 L811.8,395.0 L813.7,394.9 L815.8,394.6 L818.0,394.5 L820.3,394.6 L822.7,394.7 L825.2,394.7 L827.7,394.7 L830.4,394.7 L833.1,394.5 L835.9,394.5 L838.7,394.6 L841.5,394.6 L844.4,394.6 L847.3,394.6 L850.3,394.5 L853.2,394.6 L856.1,394.7 L859.0,394.5 L861.9,394.4 L864.8,394.5 L867.2,394.8 L869.6,394.9 L872.1,394.8 L874.6,394.7 L877.1,394.6 L879.6,394.6 L882.2,394.7 L884.8,394.7 L887.4,394.7 L890.0,394.7 L892.6,394.9 L895.2,395.2 L897.8,395.2 L900.5,395.2 L903.1,395.3 L905.8,395.4 L908.4,395.2 L911.1,395.1 L913.7,395.2 L916.4,395.3 L919.0,395.3 L921.7,395.4 L924.3,395.3 L926.9,395.3 L929.5,395.4 L932.1,395.4 L934.9,395.3 L937.6,395.3 L940.5,395.3 L943.4,395.4 L946.3,395.4 L949.3,395.3 L952.3,395.1 L955.3,394.9 L958.2,394.9 L961.2,395.0 L964.1,394.9 L967.0,395.0 L969.9,395.0 L972.6,394.7 L975.3,394.6 L977.9,394.8 L980.4,394.9 L982.8,394.8 L985.1,394.8 L987.3,394.8 L989.3,394.7 L991.1,394.6 L992.8,394.6 L994.3,394.8 L1000.3,395.9 L1000.0,397.0 L1002.0,397.1 L1004.5,396.9 L1007.2,396.8 L1010.0,396.8 L1012.7,397.2 L1015.1,398.2 L1017.2,399.4 L1019.1,401.0 L1020.9,402.9 L1022.7,405.1 L1024.6,407.5 L1026.8,409.8 L1028.7,411.6 L1030.7,413.4 L1032.8,415.2 L1035.0,416.8 L1037.2,418.8 L1039.3,421.1 L1041.3,423.0 L1043.0,424.7 L1044.7,427.0 L1046.3,429.8 L1047.7,432.5 L1049.0,434.9 L1050.2,437.1 L1051.3,439.7 L1052.4,442.4 L1053.4,445.0 L1054.4,447.4 L1055.2,449.8 L1056.0,452.2 L1056.7,454.6 L1057.5,457.1 L1058.2,459.9 L1058.8,462.2 L1059.3,464.7 L1059.9,467.3 L1060.4,470.0 L1060.9,472.8 L1061.4,475.4 L1061.9,478.2 L1062.3,480.8 L1062.8,483.2 L1063.3,486.2 L1063.8,489.0 L1064.3,491.7 L1064.7,494.5 L1065.2,497.2 L1065.7,499.6 L1066.3,501.7 L1067.5,505.0 L1068.9,507.9 L1070.4,510.3 L1072.1,512.0 L1074.6,513.6 L1077.4,514.4 L1080.3,514.4 L1082.5,513.6 L1084.8,511.9 L1087.2,510.2 L1089.6,509.5 L1092.1,510.1 L1094.7,511.6 L1097.4,513.5 L1100.1,515.8 L1102.0,517.3 L1104.0,518.9 L1106.0,521.0 L1108.1,523.3 L1110.0,525.4 L1111.7,527.5 L1113.3,529.6 L1114.7,531.7 L1116.0,534.0 L1117.2,536.3 L1118.5,538.4 L1119.8,540.3 L1121.8,542.6 L1123.7,544.5 L1125.7,545.8 L1128.0,546.9 L1130.7,547.7 L1133.7,548.1 L1136.7,548.4 L1139.6,548.2 L1142.4,548.1 L1145.1,548.3 L1147.7,548.2 L1150.1,547.1 L1151.9,545.4 L1153.5,543.5 L1155.1,540.9 L1156.6,537.8 L1158.2,535.1 L1159.5,533.0 L1160.8,530.6 L1162.1,528.0 L1163.4,525.3 L1164.8,522.8 L1166.4,520.4 L1167.9,518.3 L1169.5,516.0 L1171.1,513.8 L1172.9,512.1 L1174.6,510.1 L1176.3,508.2 L1178.0,506.5 L1179.9,504.4 L1181.9,502.3 L1183.9,500.3 L1185.8,498.6 L1187.7,496.8 L1189.6,494.7 L1191.8,492.6 L1194.1,490.7 L1196.2,489.3 L1198.2,488.0 L1200.0,487.0 L1202.9,486.2 L1205.8,486.7 L1208.3,487.1 L1211.2,487.7 L1214.2,488.8 L1216.6,490.4 L1218.3,492.3 L1219.6,494.9 L1220.8,498.1 L1222.0,501.4 L1222.9,504.1 L1223.8,506.9 L1224.6,509.7 L1225.5,512.4 L1226.4,515.2 L1227.4,517.3 L1230.2,517.3 L1233.9,513.9 L1235.7,512.7 L1237.9,510.6 L1240.2,508.1 L1242.6,506.2 L1244.8,504.7 L1246.8,504.1 L1249.2,505.2 L1251.4,507.2 L1253.3,509.9 L1255.4,512.7 L1257.2,514.9 L1259.0,517.5 L1260.9,519.8 L1262.6,522.0 L1264.1,524.5 L1265.4,527.6 L1266.4,530.9 L1267.3,534.1 L1268.3,536.2 L1269.5,537.2 L1271.2,537.0 L1273.0,534.9 L1274.9,531.9 L1277.0,529.3 L1278.5,527.6 L1280.0,525.0 L1281.6,522.3 L1283.3,520.0 L1285.0,517.8 L1286.7,515.8 L1289.3,514.2 L1292.0,513.8 L1294.7,513.6 L1297.5,512.5 L1299.8,511.0 L1302.2,509.3 L1304.7,507.0 L1307.1,504.8 L1309.4,503.9 L1312.2,504.2 L1314.9,505.2 L1317.6,506.4 L1320.2,507.6 L1322.6,509.0 L1324.9,510.9 L1327.3,512.6 L1330.0,514.0 L1332.6,515.2 L1335.4,515.8 L1338.4,516.0 L1341.3,516.7 L1343.9,517.2 L1346.8,517.2 L1349.4,517.4 L1352.0,517.5 L1354.7,517.4 L1357.6,517.6 L1360.7,518.3 L1363.8,518.8 L1366.6,518.5 L1368.3,517.2 L1370.0,515.2 L1371.6,513.2 L1373.1,510.8 L1374.7,508.1 L1376.3,506.0 L1378.3,504.1 L1380.2,502.3 L1382.2,500.4 L1384.1,498.8 L1386.0,497.3 L1388.4,495.7 L1390.7,494.5 L1393.0,493.4 L1395.0,492.2 L1397.9,491.7 L1400.8,491.4 L1403.6,490.7 L1406.7,489.9 L1409.4,488.3 L1410.8,486.5 L1411.8,484.2 L1413.0,481.6 L1414.8,479.6 L1416.5,478.1 L1418.5,476.0 L1420.8,474.6 L1423.1,473.4 L1425.5,471.7 L1427.8,470.4 L1430.1,469.8 L1432.4,469.0 L1434.8,467.9 L1437.2,467.3 L1439.5,466.7 L1441.8,465.5 L1444.5,464.1 L1447.3,463.2 L1450.0,462.0 L1452.5,461.1 L1454.8,460.3 L1458.1,458.1 L1460.9,456.3 L1463.4,455.7 L1466.3,457.0 L1468.8,457.3 L1470.0,455.4 L1471.2,452.9 L1472.5,450.0 L1474.2,446.8 L1475.6,444.6 L1477.2,442.4 L1478.8,440.3 L1480.6,437.7 L1482.3,435.6 L1483.9,434.1 L1485.7,431.7 L1487.5,428.7 L1489.2,426.8 L1490.9,425.7 L1492.5,423.5 L1494.0,420.7 L1495.5,417.8 L1496.9,415.1 L1498.4,413.1 L1500.1,411.3 L1502.1,408.8 L1504.2,406.7 L1506.4,405.3 L1508.7,404.0 L1510.9,402.3 L1513.7,401.4 L1516.6,401.5 L1519.3,400.7 L1521.7,399.7 L1523.9,398.3 L1525.7,395.6 L1528.2,392.9 L1530.4,391.9 L1533.0,391.5 L1535.8,391.0 L1538.6,390.4 L1541.1,390.1 L1543.9,389.8 L1546.5,389.6 L1549.1,389.7 L1551.9,390.3 L1554.4,391.4 L1557.1,392.1 L1559.8,392.6 L1562.4,392.8 L1564.9,392.6 L1567.7,392.0 L1570.2,390.8 L1572.7,389.1 L1575.6,387.7 L1578.4,387.3 L1581.5,386.8 L1584.7,386.0 L1587.6,385.8 L1590.0,385.8 L1593.4,385.5 L1596.2,386.1 L1599.1,386.5 L1602.3,387.2 L1605.1,389.3 L1606.5,391.7 L1607.4,394.0 L1608.5,396.4 L1610.4,398.4 L1612.7,399.5 L1615.6,399.5 L1618.7,398.1 L1621.8,397.2 L1624.7,397.5 L1627.9,397.7 L1631.0,398.0 L1634.0,398.3 L1637.1,399.0 L1639.6,399.9 L1642.2,400.8 L1644.7,402.6 L1647.2,404.3 L1649.6,404.8 L1651.7,404.0 L1653.7,401.8 L1655.6,399.3 L1657.7,397.6 L1660.3,396.7 L1662.4,396.5 L1664.6,396.0 L1667.0,395.2 L1669.5,394.4 L1672.2,394.3 L1675.0,394.9 L1678.1,395.1 L1680.4,394.7 L1683.0,394.7 L1685.7,395.0 L1688.6,395.1 L1691.4,394.9 L1694.3,394.3 L1697.2,393.9 L1699.9,394.5 L1702.5,395.6 L1704.8,396.5 L1707.8,397.1 L1710.5,397.0 L1713.1,397.5 L1715.4,399.1 L1717.8,399.9 L1720.1,400.3 L1722.6,401.2 L1725.1,401.7 L1727.4,402.2 L1729.8,402.5 L1732.1,402.2 L1734.7,402.2 L1737.4,402.9 L1740.4,403.6 L1742.8,403.5 L1745.4,403.2 L1748.2,403.3 L1751.1,403.4 L1754.1,403.2 L1757.0,403.5 L1759.9,404.1 L1762.5,404.4 L1765.0,404.8 L1767.1,405.6 L1770.5,406.6 L1773.1,407.3 L1775.3,407.7 L1777.3,407.7 L1779.6,407.6 L1782.1,407.2 L1784.5,406.6 L1786.9,405.8 L1789.4,404.9 L1792.0,404.3 L1794.7,404.3 L1797.6,404.1 L1800.5,404.1 L1803.4,404.8 L1806.0,405.7 L1808.6,406.9 L1811.1,408.6 L1813.5,410.2 L1815.6,411.9 L1817.0,413.0" fill="none" stroke="#1004c4" stroke-width="9.4" stroke-linejoin="round" stroke-linecap="butt"/>
<path d="M134.9,556.7 L136.6,556.5 L138.9,556.4 L141.6,556.3 L144.6,556.3 L147.8,556.2 L151.1,556.1 L154.3,556.1 L156.8,555.9 L159.4,555.7 L162.0,555.5 L164.8,555.2 L167.5,554.8 L170.3,554.5 L173.1,554.2 L175.9,553.8 L178.6,553.4 L181.0,552.9 L183.5,552.3 L185.9,551.6 L188.3,550.9 L190.8,550.2 L193.2,549.4 L195.6,548.4 L198.0,547.6 L200.5,546.8 L202.9,546.1 L205.3,545.4 L207.7,544.4 L210.2,543.5 L212.6,542.8 L215.0,542.2 L217.4,541.2 L219.8,540.4 L222.3,539.7 L224.7,538.8 L227.1,538.0 L229.5,537.4 L232.0,536.7 L234.4,535.9 L236.8,535.2 L239.2,534.6 L241.7,534.1 L244.1,533.6 L246.5,532.8 L249.0,532.2 L251.4,531.7 L254.1,530.8 L257.0,530.1 L259.8,529.6 L262.6,529.0 L265.5,528.5 L268.2,527.8 L270.8,527.0 L273.4,526.3 L275.7,525.7 L278.8,525.0 L281.4,524.2 L283.8,523.4 L286.2,522.6 L288.8,521.8 L291.9,521.0 L294.3,520.4 L296.9,519.9 L299.7,519.7 L302.6,519.3 L305.5,518.9 L308.4,518.5 L311.2,518.2 L313.8,517.8 L316.2,517.6 L319.5,517.5 L322.5,517.7 L325.3,517.7 L327.9,517.7 L330.3,518.0 L332.4,518.5 L335.6,520.0 L338.0,521.8 L340.5,524.1 L342.3,525.9 L344.3,528.3 L346.2,530.5 L348.2,532.5 L350.2,533.9 L352.6,535.2 L354.9,536.4 L357.2,537.2 L359.9,537.4 L362.2,536.6 L364.7,535.2 L367.2,533.7 L370.0,532.3 L372.8,531.4 L375.3,531.4 L378.0,531.8 L380.7,532.1 L383.5,532.5 L386.3,532.8 L389.0,532.6 L391.7,531.8 L394.5,530.7 L397.2,529.6 L399.9,528.6 L402.6,527.5 L405.2,526.7 L407.6,526.1 L409.8,525.6 L412.0,525.2 L414.3,524.8 L416.9,524.3 L420.0,523.7 L421.9,523.1 L423.6,522.4 L425.2,521.8 L426.9,521.0 L428.8,520.0 L431.0,519.3 L433.7,518.6 L437.0,517.9 L441.0,517.3 L445.9,517.1 L447.6,517.0 L449.5,516.8 L451.4,516.8 L453.4,516.9 L455.5,516.7 L457.7,516.7 L460.0,516.7 L462.4,516.6 L464.8,516.5 L467.2,516.7 L469.8,516.8 L472.3,516.8 L475.0,516.6 L477.7,516.7 L480.4,516.8 L483.1,516.7 L485.9,516.7 L488.7,516.5 L491.5,516.5 L494.4,516.6 L497.2,516.6 L500.1,516.5 L502.9,516.7 L505.8,516.8 L508.6,516.8 L511.5,516.8 L514.3,516.8 L517.1,516.9 L519.8,517.0 L522.6,517.1 L525.2,517.3 L527.9,517.3 L530.4,517.3 L532.9,517.2 L535.4,517.2 L537.9,517.2 L540.4,517.2 L542.9,517.0 L545.4,517.0 L547.9,517.2 L550.5,517.4 L553.0,517.4 L555.5,517.2 L558.1,517.2 L560.6,517.4 L563.2,517.5 L565.7,517.7 L568.3,517.6 L570.8,517.6 L573.4,517.6 L575.9,517.5 L578.5,517.4 L581.1,517.5 L583.6,517.6 L586.2,517.6 L588.8,517.7 L591.3,517.8 L593.9,518.0 L596.4,518.1 L599.0,518.0 L601.6,517.8 L604.1,517.8 L606.7,518.0 L609.2,518.0 L611.8,518.0 L614.3,518.2 L616.9,518.4 L619.4,518.4 L622.1,518.3 L624.7,518.3 L627.4,518.3 L630.1,518.2 L632.8,518.2 L635.5,518.3 L638.3,518.2 L641.0,517.9 L643.8,517.9 L646.5,518.0 L649.3,518.0 L652.0,518.1 L654.7,518.2 L657.4,518.3 L660.1,518.3 L662.8,518.2 L665.5,518.0 L668.1,518.1 L670.8,518.3 L673.3,518.4 L675.9,518.3 L678.4,518.1 L680.8,518.0 L683.3,518.2 L685.6,518.3 L688.0,518.4 L690.2,518.4 L692.4,518.4 L694.6,518.4 L696.6,518.3 L698.7,518.1 L700.6,518.1 L704.3,518.2 L707.9,518.0 L711.2,517.8 L714.5,517.8 L717.5,517.8 L720.4,517.5 L723.2,517.4 L725.8,517.4 L728.3,517.4 L730.6,517.2 L732.8,516.9 L734.9,516.8 L736.9,516.7 L738.8,516.6 L740.6,516.7 L742.2,516.8 L743.8,517.0 L748.5,517.7 L750.6,518.6 L751.4,520.2 L752.4,522.6 L753.2,524.5 L753.9,527.0 L754.3,530.0 L754.7,532.8 L755.1,535.4 L755.5,537.8 L756.3,542.1 L757.0,545.4 L757.8,547.0 L758.7,545.9 L759.6,542.9 L760.5,540.0 L761.3,538.0 L762.0,535.7 L763.2,532.9 L764.3,530.6 L765.5,527.8 L766.9,524.9 L768.3,522.6 L769.7,521.2 L772.8,520.8 L776.2,522.7 L778.2,524.3 L780.2,526.3 L782.4,528.0 L784.8,528.9 L786.8,528.5 L788.9,527.4 L791.0,525.8 L793.3,523.9 L795.6,522.2 L797.6,521.1 L799.3,520.3 L801.4,519.6 L804.2,518.8 L808.6,518.1 L810.3,517.9 L812.1,517.7 L814.1,517.4 L816.1,517.2 L818.3,517.2 L820.5,517.2 L822.9,517.2 L825.4,517.1 L827.9,516.9 L830.6,516.7 L833.4,516.8 L836.2,516.9 L839.2,516.8 L842.2,516.7 L845.4,516.7 L848.6,516.7 L850.7,516.8 L852.9,517.0 L855.2,517.0 L857.6,516.9 L860.0,517.1 L862.4,517.3 L864.9,517.4 L867.5,517.5 L870.1,517.5 L872.7,517.7 L875.4,517.9 L878.0,518.0 L880.8,518.0 L883.5,518.1 L886.2,518.4 L889.0,518.6 L891.7,518.7 L894.5,518.8 L897.2,518.9 L900.0,519.0 L902.7,519.1 L905.4,519.2 L908.0,519.3 L910.7,519.3 L913.3,519.4 L915.9,519.2 L918.5,519.0 L921.2,518.9 L923.9,519.0 L926.6,519.2 L929.3,519.1 L932.0,519.0 L934.7,518.9 L937.4,518.8 L940.1,518.7 L942.9,518.7 L945.6,518.5 L948.3,518.3 L950.9,518.2 L953.6,518.2 L956.2,518.3 L958.8,518.3 L961.4,518.2 L963.9,518.1 L966.4,518.0 L968.8,517.8 L971.2,517.5 L973.6,517.5 L975.9,517.7 L978.1,517.7 L981.2,517.7 L984.2,517.6 L987.2,517.4 L990.2,517.5 L993.2,517.4 L996.1,517.1 L998.9,516.9 L1001.7,517.2 L1004.4,517.2 L1007.0,516.8 L1009.5,516.7 L1011.9,516.8 L1014.2,516.8 L1016.3,516.7 L1018.3,516.7 L1020.2,516.7 L1021.9,516.8 L1023.4,517.0 L1028.7,517.4 L1030.0,518.4 L1032.4,518.9 L1035.2,519.3 L1038.2,520.0 L1041.1,521.2 L1043.7,522.5 L1045.9,524.1 L1048.0,525.8 L1049.9,528.2 L1051.6,530.7 L1053.3,533.2 L1054.4,535.3 L1055.5,537.7 L1056.5,540.2 L1057.4,542.9 L1058.3,545.7 L1059.2,548.5 L1060.1,551.3 L1061.0,553.9 L1061.8,556.3 L1062.5,558.8 L1063.3,561.4 L1064.1,564.1 L1064.8,566.6 L1065.6,569.0 L1066.5,571.7 L1067.3,574.6 L1068.2,577.6 L1069.1,580.4 L1070.0,582.8 L1071.1,585.0 L1072.6,587.4 L1074.2,589.4 L1075.9,591.1 L1077.6,593.0 L1079.3,595.1 L1081.0,596.9 L1082.6,598.8 L1084.3,601.1 L1085.9,603.6 L1087.5,605.9 L1088.5,607.7 L1089.5,610.0 L1090.4,612.4 L1091.4,614.7 L1092.3,617.2 L1093.3,619.7 L1094.3,622.2 L1095.3,624.5 L1096.2,627.0 L1097.2,629.3 L1098.3,631.7 L1099.3,634.2 L1100.4,636.7 L1101.5,639.0 L1102.6,641.2 L1103.7,643.5 L1104.9,645.9 L1106.1,648.1 L1107.3,650.3 L1108.6,652.6 L1109.8,654.9 L1111.0,657.2 L1112.1,659.2 L1113.4,661.6 L1114.6,664.0 L1115.8,666.4 L1117.0,668.9 L1118.2,671.3 L1119.3,673.4 L1120.4,675.5 L1121.8,678.3 L1123.1,680.7 L1124.4,682.8 L1125.7,684.8 L1127.2,686.5 L1130.1,688.0 L1133.3,688.5 L1136.8,689.4 L1139.2,690.6 L1141.7,692.0 L1144.3,693.6 L1146.9,694.7 L1149.1,694.9 L1151.4,694.0 L1153.4,692.2 L1155.2,689.8 L1157.3,686.8 L1158.4,684.9 L1159.6,682.6 L1160.7,679.8 L1161.9,677.2 L1163.1,674.8 L1164.4,671.9 L1165.6,669.5 L1166.9,667.7 L1168.3,665.6 L1169.8,663.4 L1171.2,661.2 L1172.7,658.7 L1174.2,656.6 L1175.9,654.7 L1177.8,652.5 L1179.6,650.3 L1181.5,647.9 L1183.6,645.3 L1185.7,642.9 L1187.9,640.9 L1190.1,639.0 L1192.2,637.5 L1194.3,636.9 L1197.1,637.1 L1200.0,637.6 L1202.9,638.6 L1205.6,639.9 L1208.3,641.4 L1210.7,643.0 L1212.9,644.5 L1214.8,646.2 L1216.6,647.9 L1218.4,649.9 L1220.0,652.0 L1221.6,653.7 L1224.0,655.8 L1226.4,657.9 L1228.4,660.0 L1230.0,661.5 L1231.5,659.6 L1233.3,659.7 L1235.8,660.1 L1238.6,660.5 L1241.5,661.1 L1244.3,661.9 L1246.6,662.9 L1248.8,665.1 L1250.6,667.6 L1252.1,670.1 L1253.6,672.8 L1255.2,675.5 L1256.8,677.8 L1258.4,680.0 L1259.9,682.3 L1261.4,684.1 L1262.8,685.4 L1264.5,688.0 L1266.1,691.0 L1267.6,693.2 L1269.3,694.2 L1271.7,694.6 L1274.3,693.9 L1276.8,691.8 L1278.1,689.8 L1279.3,687.1 L1280.6,684.3 L1281.9,681.9 L1283.1,679.5 L1284.4,677.2 L1286.9,674.5 L1289.3,673.0 L1291.9,672.0 L1294.6,672.4 L1297.5,673.8 L1300.6,674.3 L1303.1,673.4 L1305.8,671.9 L1308.6,670.4 L1311.3,669.6 L1314.0,670.1 L1316.7,671.1 L1319.4,672.7 L1322.1,674.8 L1324.3,676.7 L1326.4,678.3 L1328.6,679.9 L1330.7,681.7 L1332.9,683.1 L1335.1,685.1 L1337.2,687.6 L1339.4,689.6 L1341.5,690.9 L1343.7,691.8 L1346.4,692.8 L1349.2,693.5 L1351.9,694.3 L1354.5,694.9 L1357.8,694.6 L1361.0,693.5 L1364.2,692.0 L1366.2,690.7 L1368.2,688.9 L1370.2,686.6 L1372.1,684.4 L1373.9,682.5 L1375.9,680.2 L1377.6,678.2 L1379.4,676.1 L1381.5,674.0 L1384.0,672.2 L1386.7,670.5 L1389.5,669.0 L1392.3,668.0 L1395.1,668.0 L1398.0,669.0 L1400.8,670.2 L1403.1,670.7 L1405.9,671.9 L1408.5,672.3 L1410.4,671.4 L1412.6,670.0 L1414.9,668.3 L1417.1,666.2 L1419.9,664.3 L1422.7,663.1 L1425.0,661.9 L1426.8,660.3 L1428.6,658.7 L1430.0,657.2 L1431.6,655.1 L1433.6,653.4 L1436.2,652.0 L1438.4,651.2 L1441.0,649.9 L1443.8,648.5 L1446.7,647.8 L1449.6,647.1 L1452.4,646.0 L1455.1,645.0 L1457.8,644.1 L1460.5,643.2 L1463.2,642.4 L1465.9,641.3 L1468.6,640.1 L1471.4,639.4 L1474.2,638.7 L1477.0,637.5 L1479.8,636.3 L1482.4,634.7 L1484.8,633.0 L1487.3,631.8 L1489.5,630.2 L1491.5,627.9 L1493.5,625.9 L1495.6,624.4 L1497.6,622.9 L1499.4,620.7 L1501.2,618.1 L1503.5,616.8 L1506.3,614.9 L1508.2,613.0 L1510.4,612.3 L1512.7,611.7 L1515.2,610.2 L1517.7,609.5 L1520.3,609.2 L1522.9,608.1 L1525.4,606.9 L1527.9,606.2 L1530.6,605.8 L1533.3,605.1 L1536.0,604.0 L1538.7,603.3 L1541.4,603.0 L1544.1,602.7 L1546.8,602.7 L1549.5,602.7 L1552.2,601.9 L1555.0,600.8 L1557.8,600.6 L1560.6,600.2 L1563.4,598.9 L1566.1,598.1 L1568.7,597.6 L1571.1,596.6 L1574.1,595.4 L1577.0,594.5 L1579.7,593.9 L1582.3,593.5 L1584.8,592.7 L1587.3,591.9 L1590.4,591.3 L1593.5,590.7 L1596.4,590.3 L1599.1,590.3 L1601.3,590.8 L1604.6,592.6 L1606.7,595.1 L1608.6,598.8 L1611.0,601.7 L1613.9,602.0 L1617.4,602.0 L1620.0,602.3 L1621.1,600.5 L1623.0,599.9 L1625.6,599.0 L1628.7,598.1 L1631.8,598.6 L1634.0,600.3 L1636.3,601.8 L1638.7,602.9 L1641.1,604.3 L1643.6,605.8 L1646.0,607.2 L1648.8,607.3 L1651.5,606.2 L1654.3,605.7 L1657.2,605.0 L1660.3,603.8 L1662.5,603.5 L1664.6,603.6 L1666.7,603.7 L1669.0,603.8 L1671.6,603.5 L1674.6,603.0 L1678.1,602.1 L1680.1,602.2 L1682.4,602.8 L1684.9,602.9 L1687.5,602.8 L1690.2,602.7 L1693.0,603.2 L1695.9,603.7 L1698.8,603.7 L1701.6,603.1 L1704.3,602.6 L1706.9,602.7 L1709.4,602.9 L1711.7,603.1 L1713.7,603.0 L1717.1,603.9 L1720.0,605.0 L1722.4,605.3 L1724.6,606.1 L1726.7,607.1 L1728.9,607.7 L1731.5,607.9 L1734.1,608.0 L1736.8,608.0 L1739.6,607.6 L1742.4,607.4 L1745.2,607.1 L1748.0,606.6 L1750.5,606.1 L1752.9,605.6 L1756.3,605.4 L1759.4,605.4 L1762.1,605.8 L1764.7,606.7 L1767.1,607.8 L1769.5,608.9 L1771.3,610.7 L1773.3,612.2 L1776.0,612.7 L1778.0,613.3 L1780.3,613.7 L1782.8,613.0 L1785.4,612.9 L1788.1,613.0 L1791.0,612.5 L1793.9,612.5 L1796.4,612.9 L1799.1,613.3 L1802.1,613.6 L1805.1,613.1 L1808.0,613.0 L1810.8,613.9 L1813.3,613.6 L1815.4,612.1 L1817.0,612.7" fill="none" stroke="#d01ccc" stroke-width="9.4" stroke-linejoin="round" stroke-linecap="butt"/>
<path d="M134.9,681.8 L136.7,681.8 L139.1,682.3 L142.0,682.4 L145.2,682.5 L148.4,682.9 L151.5,683.2 L154.3,683.5 L157.1,683.9 L159.6,684.3 L162.1,684.8 L164.6,685.5 L167.4,686.0 L170.5,686.2 L172.8,686.1 L175.4,685.8 L178.0,685.6 L180.7,685.5 L183.6,685.4 L186.4,685.1 L189.3,684.7 L192.1,684.3 L194.8,683.7 L197.2,682.9 L199.6,681.9 L202.1,680.9 L204.5,680.2 L206.9,679.3 L209.3,678.4 L211.7,677.4 L214.2,676.3 L216.6,675.3 L219.0,674.6 L221.4,673.7 L223.9,672.8 L226.3,672.0 L228.7,671.3 L231.1,670.6 L233.6,669.8 L236.0,669.0 L238.4,668.3 L240.9,667.8 L243.3,667.4 L246.0,666.6 L248.7,665.8 L251.4,665.2 L254.1,664.9 L256.8,664.4 L259.5,663.8 L262.2,663.3 L264.9,663.0 L267.6,662.5 L270.3,661.8 L273.0,661.4 L275.7,660.8 L278.4,660.2 L281.1,659.8 L283.8,659.7 L286.5,659.3 L289.2,659.0 L291.9,658.6 L294.6,658.1 L297.5,657.6 L300.3,657.1 L303.1,656.5 L306.0,656.2 L308.7,655.9 L311.3,655.5 L313.9,655.2 L316.2,655.1 L319.4,655.1 L322.4,655.4 L325.1,655.9 L327.7,656.3 L330.1,656.8 L332.4,657.5 L335.0,658.6 L337.3,660.0 L339.5,661.7 L341.6,663.6 L343.7,665.0 L346.2,666.4 L348.6,668.0 L350.9,669.1 L353.4,669.6 L356.1,669.7 L358.8,669.1 L361.7,668.1 L364.7,667.0 L367.1,666.0 L369.5,664.8 L372.0,663.4 L374.7,662.4 L377.7,661.8 L380.2,661.5 L382.9,661.5 L385.7,661.6 L388.7,661.6 L391.6,661.7 L394.4,661.6 L397.1,661.3 L400.0,660.7 L402.7,659.7 L405.4,658.6 L408.0,657.7 L410.6,656.8 L413.3,655.9 L416.1,655.3 L419.0,654.9 L421.9,654.8 L424.8,654.6 L427.5,654.3 L430.0,654.2 L431.5,654.0 L431.4,653.8 L433.6,653.9 L441.6,653.8 L443.1,653.6 L444.7,653.5 L446.5,653.6 L448.3,653.6 L450.3,653.6 L452.4,653.6 L454.5,653.7 L456.8,653.5 L459.1,653.5 L461.5,653.6 L464.0,653.6 L466.5,653.5 L469.1,653.3 L471.8,653.1 L474.5,652.9 L477.3,652.9 L480.1,653.0 L482.9,653.3 L485.8,653.3 L488.6,653.1 L491.5,652.9 L494.4,652.9 L497.3,652.8 L500.2,652.9 L503.1,653.0 L506.0,652.9 L508.9,652.8 L511.7,653.0 L514.5,653.1 L517.3,653.1 L520.0,653.2 L522.7,653.3 L525.3,653.3 L527.9,653.2 L530.4,653.1 L533.0,653.2 L535.5,653.5 L538.1,653.7 L540.6,653.6 L543.1,653.7 L545.7,654.0 L548.2,654.2 L550.8,654.5 L553.3,654.7 L555.8,654.9 L558.4,655.0 L560.9,655.0 L563.5,655.0 L566.0,655.2 L568.6,655.4 L571.1,655.8 L573.6,656.2 L576.2,656.2 L578.7,656.1 L581.3,656.1 L583.8,656.3 L586.4,656.6 L588.9,656.9 L591.4,657.1 L594.0,657.2 L596.5,657.3 L599.1,657.5 L601.6,657.7 L604.1,657.7 L606.7,657.9 L609.2,658.0 L611.8,657.8 L614.3,657.8 L616.9,658.2 L619.4,658.5 L622.1,658.5 L624.7,658.3 L627.4,658.3 L630.1,658.4 L632.8,658.5 L635.5,658.4 L638.3,658.3 L641.0,658.4 L643.8,658.3 L646.5,658.4 L649.3,658.5 L652.0,658.4 L654.7,658.3 L657.4,658.4 L660.1,658.5 L662.8,658.6 L665.5,658.6 L668.1,658.5 L670.8,658.4 L673.3,658.4 L675.9,658.5 L678.4,658.4 L680.8,658.3 L683.3,658.3 L685.6,658.5 L688.0,658.4 L690.2,658.3 L692.4,658.5 L694.6,658.5 L696.6,658.3 L698.7,658.0 L700.6,657.9 L704.3,657.8 L707.9,657.6 L711.2,657.4 L714.5,657.4 L717.5,657.0 L720.4,656.7 L723.2,656.6 L725.8,656.4 L728.3,656.1 L730.6,655.9 L732.8,655.5 L734.9,655.1 L736.9,655.1 L738.8,655.0 L740.6,654.7 L742.2,654.6 L743.8,654.6 L748.4,655.2 L750.4,656.3 L751.2,657.9 L752.4,660.2 L753.8,662.7 L755.2,665.8 L756.4,668.9 L757.6,671.6 L758.9,673.2 L760.9,673.1 L762.9,670.9 L765.4,668.9 L767.7,667.7 L770.3,666.4 L773.1,665.2 L776.2,664.4 L778.5,664.4 L780.9,664.7 L783.5,665.1 L786.1,665.6 L788.7,665.9 L791.3,665.5 L793.8,664.5 L796.4,663.4 L798.9,662.3 L801.5,660.7 L804.0,659.0 L806.4,657.9 L809.0,657.1 L811.2,656.3 L813.6,655.8 L816.3,655.7 L820.0,655.5 L821.9,655.4 L823.8,655.5 L825.7,655.6 L827.8,655.7 L830.0,655.8 L832.3,655.9 L834.9,655.9 L837.8,656.3 L841.0,656.4 L844.6,656.4 L848.6,656.7 L850.5,656.7 L852.6,656.7 L854.7,656.8 L856.9,657.0 L859.2,657.2 L861.6,657.4 L864.1,657.6 L866.6,657.6 L869.2,657.5 L871.9,657.7 L874.6,657.9 L877.3,657.9 L880.1,658.0 L882.9,658.1 L885.7,658.0 L888.5,658.2 L891.3,658.4 L894.2,658.5 L897.0,658.7 L899.8,658.9 L902.6,658.7 L905.3,658.5 L908.0,658.6 L910.7,658.7 L913.3,659.0 L915.9,659.2 L918.6,659.3 L921.2,659.4 L923.9,659.5 L926.6,659.7 L929.4,659.9 L932.1,659.9 L934.9,660.0 L937.6,660.2 L940.4,660.2 L943.1,660.2 L945.9,660.4 L948.6,660.5 L951.3,660.4 L953.9,660.6 L956.6,660.7 L959.2,660.7 L961.7,660.7 L964.2,660.8 L966.7,660.9 L969.1,661.0 L971.5,661.0 L973.7,661.0 L976.0,661.0 L978.1,660.9 L981.3,660.6 L984.4,660.4 L987.4,660.1 L990.2,659.7 L993.0,659.4 L995.6,659.2 L998.2,659.0 L1000.7,658.7 L1003.1,658.1 L1005.4,657.6 L1007.7,657.2 L1010.0,656.9 L1012.2,656.6 L1014.3,656.3 L1016.5,656.0 L1018.6,655.8 L1021.7,655.8 L1024.6,655.8 L1027.5,655.6 L1030.3,655.7 L1033.0,655.7 L1035.6,655.7 L1038.0,655.7 L1040.3,655.9 L1042.4,656.1 L1044.4,656.2 L1046.1,656.4 L1049.7,657.4 L1051.9,658.7 L1053.3,660.1 L1054.9,661.8 L1056.6,663.9 L1058.1,666.3 L1059.5,668.8 L1060.7,671.6 L1061.6,674.2 L1062.4,676.8 L1063.1,679.5 L1063.8,682.2 L1064.5,685.1 L1065.2,688.0 L1065.9,691.0 L1066.6,693.7 L1067.4,696.4 L1068.3,699.3 L1069.4,702.1 L1070.6,705.1 L1072.0,707.9 L1073.4,710.5 L1075.0,712.8 L1076.8,715.3 L1078.8,717.7 L1080.8,719.9 L1082.8,722.1 L1084.6,724.2 L1086.5,726.7 L1088.2,729.1 L1089.8,731.4 L1091.3,733.8 L1092.4,736.4 L1093.4,739.2 L1094.3,741.9 L1095.2,744.5 L1096.1,747.3 L1097.1,750.1 L1098.0,752.8 L1099.0,755.4 L1100.0,758.2 L1100.9,761.0 L1101.8,763.6 L1102.7,766.1 L1103.6,768.7 L1104.5,771.4 L1105.5,774.3 L1106.5,776.7 L1107.5,779.1 L1108.6,781.5 L1109.7,783.8 L1110.8,786.2 L1111.7,788.7 L1112.6,791.5 L1113.4,794.2 L1114.2,797.0 L1114.9,799.8 L1115.6,803.0 L1116.1,805.4 L1116.7,808.0 L1117.2,810.6 L1117.8,813.3 L1118.3,816.2 L1118.9,819.2 L1119.4,822.3 L1119.8,824.8 L1120.2,827.5 L1120.7,830.2 L1121.1,832.9 L1121.5,835.6 L1121.9,838.1 L1122.4,840.7 L1122.8,843.7 L1123.2,846.3 L1123.6,848.8 L1124.0,851.6 L1124.5,854.5 L1124.9,857.3 L1125.3,860.1 L1125.7,862.8 L1126.1,865.3 L1126.6,867.8 L1127.0,870.1 L1127.6,873.2 L1128.1,876.3 L1128.7,879.2 L1129.3,882.1 L1129.8,884.7 L1130.4,887.1 L1130.9,889.4 L1131.7,893.2 L1132.5,896.3 L1133.2,898.7 L1134.0,900.4 L1137.5,899.1 L1138.4,897.6 L1139.4,895.9 L1140.4,893.6 L1141.7,890.7 L1143.2,887.3 L1144.0,885.5 L1144.9,883.4 L1145.8,881.0 L1146.8,878.6 L1147.8,876.1 L1148.8,873.5 L1149.9,871.0 L1150.9,868.6 L1152.0,865.7 L1153.0,862.5 L1154.0,860.0 L1154.8,857.8 L1155.7,855.2 L1156.6,852.6 L1157.5,850.0 L1158.4,847.2 L1159.3,844.1 L1160.2,841.2 L1161.0,838.8 L1161.9,836.6 L1162.7,834.2 L1163.4,831.8 L1164.1,829.7 L1164.8,827.8 L1166.2,823.7 L1167.2,820.8 L1168.1,818.5 L1169.1,816.8 L1170.2,815.2 L1172.0,812.8 L1173.9,810.8 L1176.0,809.8 L1178.0,809.0 L1180.7,807.6 L1183.5,806.5 L1186.3,806.2 L1189.2,806.6 L1192.2,807.3 L1195.0,809.4 L1196.3,811.3 L1197.7,813.3 L1199.0,815.9 L1200.2,818.8 L1201.4,821.3 L1202.5,822.9 L1205.3,825.0 L1208.0,825.1 L1211.2,823.1 L1214.4,821.2 L1217.1,822.4 L1219.8,825.8 L1220.8,827.3 L1221.9,830.0 L1223.0,833.3 L1224.1,836.4 L1225.2,839.3 L1226.3,841.8 L1227.5,844.1 L1228.6,846.4 L1229.8,848.6 L1231.2,850.9 L1232.8,853.0 L1234.9,854.5 L1237.5,856.0 L1240.2,857.6 L1242.6,859.4 L1244.6,861.2 L1246.6,863.3 L1247.8,865.4 L1249.0,868.1 L1249.8,869.9 L1250.7,872.3 L1251.5,875.1 L1252.4,878.3 L1253.3,881.8 L1254.1,884.5 L1255.1,887.1 L1256.0,890.1 L1256.9,892.8 L1257.9,895.2 L1258.7,897.6 L1259.6,900.6 L1260.5,903.3 L1261.3,905.9 L1262.2,908.6 L1263.0,911.0 L1264.3,914.9 L1265.6,918.0 L1267.2,918.8 L1268.1,918.1 L1269.1,916.6 L1270.2,914.4 L1271.3,911.8 L1272.4,908.7 L1273.4,905.4 L1274.4,902.5 L1275.3,900.0 L1276.2,897.3 L1277.0,894.9 L1277.8,892.3 L1278.6,889.4 L1279.3,887.0 L1280.1,884.8 L1281.4,881.2 L1282.6,878.6 L1283.8,876.8 L1285.2,874.8 L1287.4,872.6 L1289.9,871.1 L1292.4,869.1 L1294.3,866.8 L1296.3,864.6 L1298.3,862.5 L1300.3,860.0 L1302.0,857.8 L1303.8,855.4 L1305.6,852.8 L1307.3,850.3 L1308.9,848.4 L1311.2,845.8 L1313.3,843.8 L1315.4,843.1 L1317.5,843.7 L1319.6,845.5 L1321.8,848.3 L1323.0,850.2 L1324.1,852.6 L1325.3,855.0 L1326.5,857.3 L1327.8,859.5 L1329.0,862.0 L1330.3,864.6 L1331.6,867.6 L1332.9,870.6 L1334.2,873.3 L1335.4,875.5 L1336.5,877.5 L1338.4,881.1 L1340.0,883.7 L1341.5,885.8 L1345.0,888.0 L1346.7,886.5 L1348.6,884.0 L1350.9,880.1 L1351.8,878.0 L1352.9,875.9 L1353.9,873.9 L1355.0,871.6 L1356.1,869.4 L1357.3,867.1 L1358.4,864.7 L1359.6,862.2 L1360.6,859.8 L1361.7,857.3 L1362.8,854.5 L1363.9,851.8 L1365.0,849.5 L1366.1,846.8 L1367.2,843.9 L1368.3,841.6 L1369.4,839.7 L1370.8,837.3 L1372.2,835.0 L1373.6,832.7 L1375.1,830.6 L1376.5,828.3 L1377.9,826.3 L1379.3,824.7 L1381.8,822.5 L1384.2,820.9 L1386.6,819.5 L1389.1,818.4 L1392.5,817.1 L1395.9,816.2 L1399.0,816.8 L1400.6,818.6 L1402.1,821.6 L1403.6,825.1 L1405.0,827.9 L1406.4,828.8 L1407.8,827.7 L1409.2,825.6 L1410.7,822.7 L1412.2,819.3 L1413.8,815.9 L1414.9,813.6 L1416.1,811.1 L1417.3,808.8 L1418.5,806.1 L1419.8,803.2 L1421.1,800.6 L1422.4,798.2 L1423.7,795.9 L1425.4,793.4 L1427.2,791.5 L1429.0,789.4 L1430.8,787.2 L1432.7,785.0 L1434.7,782.7 L1436.5,780.5 L1438.4,778.5 L1440.4,776.6 L1442.4,774.8 L1444.4,773.2 L1446.4,771.4 L1448.3,769.2 L1450.4,767.1 L1452.4,764.9 L1454.4,762.5 L1456.4,760.4 L1458.4,758.6 L1460.6,756.9 L1462.6,755.5 L1464.7,754.0 L1466.9,752.5 L1469.1,751.5 L1471.3,750.4 L1473.4,749.0 L1475.4,747.6 L1478.0,745.8 L1480.5,744.5 L1482.9,743.5 L1485.3,741.7 L1487.7,739.1 L1489.8,737.4 L1491.9,736.1 L1494.1,734.2 L1496.2,732.5 L1498.2,731.3 L1500.1,730.6 L1502.7,728.6 L1505.2,726.3 L1507.5,724.7 L1509.9,724.2 L1512.4,725.5 L1514.8,728.2 L1517.3,730.7 L1519.8,731.3 L1521.8,729.9 L1523.7,727.5 L1525.6,724.6 L1527.7,722.2 L1530.0,720.8 L1532.5,720.2 L1535.2,719.5 L1538.0,718.6 L1540.9,718.1 L1543.9,717.7 L1546.5,717.6 L1549.3,717.3 L1552.1,716.3 L1554.9,715.1 L1557.5,713.7 L1559.8,712.8 L1562.8,712.7 L1565.4,712.8 L1567.7,712.3 L1569.8,711.3 L1571.4,709.7 L1572.5,706.9 L1573.8,703.4 L1575.8,700.7 L1577.7,699.4 L1579.9,698.3 L1582.3,696.7 L1584.8,694.8 L1587.4,693.8 L1589.8,692.5 L1592.7,690.7 L1595.8,689.7 L1598.8,689.0 L1601.5,688.3 L1603.8,688.3 L1605.5,689.9 L1606.7,692.7 L1607.6,695.1 L1608.6,697.3 L1609.8,700.0 L1610.8,702.3 L1611.9,704.7 L1613.0,707.4 L1614.2,710.1 L1615.4,712.9 L1616.5,714.9 L1617.7,715.4 L1619.0,714.4 L1620.3,712.8 L1621.6,711.0 L1622.9,708.0 L1624.2,704.3 L1625.7,702.2 L1628.1,701.5 L1630.6,701.7 L1633.2,701.8 L1635.7,702.4 L1637.3,704.0 L1638.9,705.9 L1640.5,708.4 L1642.1,711.7 L1643.8,714.6 L1645.7,715.4 L1647.4,714.4 L1649.2,712.8 L1651.1,710.9 L1653.1,708.7 L1655.2,706.9 L1657.4,704.8 L1659.7,702.8 L1661.9,702.2 L1664.3,702.1 L1666.7,701.2 L1669.3,700.1 L1671.9,699.9 L1674.5,700.1 L1677.1,699.3 L1679.6,697.7 L1682.1,696.7 L1684.7,696.6 L1687.3,695.8 L1689.8,694.5 L1692.4,693.8 L1694.9,693.6 L1697.3,692.8 L1699.6,691.5 L1702.5,690.9 L1705.3,691.0 L1708.0,690.4 L1710.6,689.6 L1713.1,690.0 L1715.6,691.2 L1718.1,692.5 L1720.6,693.8 L1723.0,695.2 L1725.3,696.8 L1727.5,698.4 L1729.6,699.8 L1732.3,700.7 L1734.6,701.0 L1736.9,701.8 L1739.6,702.3 L1741.7,702.0 L1744.0,700.3 L1746.4,698.1 L1748.9,696.4 L1751.2,694.7 L1753.5,693.9 L1756.7,694.1 L1759.9,695.0 L1762.8,696.1 L1765.5,696.9 L1767.5,698.2 L1769.1,700.5 L1770.9,702.7 L1773.5,703.4 L1775.6,703.4 L1778.1,703.9 L1780.8,703.2 L1783.7,702.6 L1786.5,702.8 L1789.2,703.0 L1791.5,703.4 L1794.3,704.2 L1796.7,705.1 L1798.9,707.4 L1801.1,710.3 L1803.5,711.6 L1806.3,711.6 L1809.4,711.4 L1812.5,710.4 L1815.1,709.3 L1817.0,709.0" fill="none" stroke="#107020" stroke-width="9.4" stroke-linejoin="round" stroke-linecap="butt"/>
<path d="M134.9,803.4 L136.7,803.3 L139.1,803.2 L142.0,803.3 L145.2,803.6 L148.4,803.8 L151.5,803.9 L154.3,804.0 L157.1,804.3 L159.6,804.9 L162.1,805.7 L164.6,806.5 L167.4,807.0 L170.5,806.9 L172.8,806.6 L175.4,806.2 L178.0,805.8 L180.7,805.2 L183.6,804.8 L186.4,804.3 L189.3,803.5 L192.1,802.8 L194.8,802.1 L197.2,801.2 L199.6,800.1 L202.1,799.0 L204.5,798.0 L206.9,797.0 L209.3,795.8 L211.7,794.6 L214.2,793.5 L216.6,792.4 L219.0,791.5 L221.4,790.4 L223.9,789.3 L226.3,788.4 L228.7,787.7 L231.1,787.0 L233.6,786.2 L236.0,785.3 L238.4,784.6 L240.9,784.1 L243.3,783.3 L246.0,782.6 L248.7,782.1 L251.4,781.5 L254.1,780.6 L256.8,779.9 L259.5,779.5 L262.2,779.1 L264.9,778.7 L267.6,778.4 L270.3,777.8 L273.0,777.2 L275.7,776.7 L278.4,776.4 L281.1,775.9 L283.8,775.4 L286.5,775.0 L289.2,774.9 L291.9,774.5 L294.6,774.0 L297.5,773.4 L300.3,772.8 L303.1,772.4 L306.0,772.3 L308.7,771.8 L311.3,771.3 L313.9,770.9 L316.2,770.8 L319.4,770.8 L322.4,771.2 L325.2,771.6 L327.8,772.0 L330.2,772.6 L332.4,773.3 L335.2,774.8 L337.6,776.7 L339.7,778.8 L342.1,780.8 L344.3,782.4 L346.5,784.5 L348.8,786.5 L351.1,787.9 L353.4,788.8 L356.2,789.1 L358.9,788.6 L361.8,787.4 L364.7,786.2 L367.1,785.3 L369.5,784.2 L372.0,783.2 L374.7,782.3 L377.7,781.7 L380.2,781.4 L382.9,781.7 L385.7,782.2 L388.7,782.6 L391.6,783.0 L394.4,783.3 L397.1,783.5 L400.0,783.0 L402.7,782.0 L405.4,781.1 L408.0,780.2 L410.6,779.3 L413.3,778.5 L415.7,777.6 L418.1,776.5 L420.5,775.7 L422.9,774.8 L425.3,774.0 L427.7,773.5 L430.0,773.0 L431.9,772.4 L432.9,771.7 L433.9,771.4 L435.7,771.1 L439.4,770.9 L445.9,771.0 L447.5,771.2 L449.2,771.2 L451.0,771.0 L453.0,770.9 L455.0,771.0 L457.1,771.1 L459.3,771.0 L461.6,770.9 L464.0,770.8 L466.5,770.8 L469.0,771.0 L471.6,771.2 L474.3,771.1 L477.0,771.2 L479.7,771.3 L482.5,771.3 L485.3,771.3 L488.2,771.2 L491.0,771.2 L493.9,771.2 L496.8,771.3 L499.7,771.6 L502.6,771.9 L505.5,771.9 L508.4,771.9 L511.3,771.9 L514.2,772.0 L517.0,772.1 L519.8,772.0 L522.5,771.9 L525.2,772.0 L527.9,771.9 L530.4,771.8 L532.9,771.9 L535.4,772.1 L537.9,772.3 L540.4,772.5 L542.9,772.4 L545.4,772.4 L547.9,772.4 L550.5,772.3 L553.0,772.3 L555.5,772.4 L558.1,772.4 L560.6,772.5 L563.2,772.7 L565.7,772.8 L568.3,772.8 L570.8,772.9 L573.4,772.9 L575.9,772.8 L578.5,772.8 L581.1,773.0 L583.6,773.2 L586.2,773.1 L588.8,773.2 L591.3,773.2 L593.9,773.0 L596.4,773.1 L599.0,773.3 L601.6,773.2 L604.1,773.1 L606.7,773.0 L609.2,772.9 L611.8,772.9 L614.3,773.0 L616.9,773.1 L619.4,773.0 L622.1,773.1 L624.7,773.1 L627.4,773.1 L630.1,773.0 L632.8,772.8 L635.5,772.6 L638.3,772.6 L641.0,772.6 L643.8,772.4 L646.5,772.2 L649.3,772.2 L652.0,772.2 L654.7,772.1 L657.4,771.9 L660.1,771.7 L662.8,771.6 L665.5,771.6 L668.1,771.6 L670.8,771.4 L673.3,771.2 L675.9,771.1 L678.4,771.2 L680.8,771.0 L683.3,770.6 L685.6,770.4 L688.0,770.4 L690.2,770.5 L692.4,770.4 L694.6,770.1 L696.6,769.8 L698.7,769.7 L700.6,769.5 L704.3,769.4 L707.9,769.2 L711.2,769.0 L714.5,768.8 L717.5,768.4 L720.4,768.1 L723.2,768.1 L725.8,768.1 L728.3,767.9 L730.6,767.6 L732.8,767.3 L734.9,767.1 L736.9,766.9 L738.8,766.8 L740.6,766.6 L742.2,766.5 L743.8,766.7 L749.3,767.3 L751.1,768.5 L752.4,770.8 L753.5,772.7 L754.4,775.1 L755.2,777.7 L756.0,780.4 L756.8,782.9 L757.8,784.9 L760.0,787.0 L762.4,787.4 L765.4,786.8 L767.6,785.9 L770.2,784.4 L772.9,782.4 L775.6,780.5 L778.3,779.7 L780.9,779.8 L783.4,780.4 L785.9,781.3 L788.6,781.9 L791.3,781.9 L793.8,781.1 L796.4,779.8 L799.0,778.2 L801.7,776.6 L804.2,775.2 L806.4,774.4 L809.2,773.2 L811.5,772.7 L816.2,772.7 L818.1,772.6 L820.1,772.6 L822.3,772.8 L824.7,773.0 L827.3,773.2 L830.0,773.3 L832.8,773.3 L835.8,773.5 L838.8,773.7 L842.0,774.1 L845.3,774.4 L848.6,774.5 L850.8,774.5 L853.0,774.7 L855.4,774.7 L857.8,774.8 L860.2,775.1 L862.7,775.4 L865.3,775.8 L867.9,775.9 L870.5,776.0 L873.2,776.2 L875.8,776.2 L878.5,776.4 L881.2,776.7 L883.9,776.9 L886.6,777.0 L889.3,777.1 L891.9,777.4 L894.5,777.4 L897.1,777.5 L899.7,777.7 L902.2,777.7 L904.8,777.7 L907.3,778.0 L909.9,778.1 L912.4,778.1 L915.0,778.0 L917.6,777.7 L920.1,777.4 L922.7,777.6 L925.2,777.8 L927.8,777.8 L930.3,777.7 L932.9,777.7 L935.5,777.6 L938.0,777.4 L940.6,777.2 L943.1,777.3 L945.7,777.4 L948.3,777.4 L950.9,777.4 L953.6,777.5 L956.3,777.5 L959.0,777.5 L961.7,777.7 L964.4,777.8 L967.2,777.7 L969.9,777.6 L972.6,777.7 L975.2,777.7 L977.8,777.5 L980.4,777.3 L982.9,777.3 L985.3,777.3 L987.7,777.1 L990.0,776.7 L992.2,776.6 L994.3,776.6 L997.4,776.4 L1000.3,775.9 L1003.1,775.2 L1005.6,774.5 L1008.1,773.7 L1010.4,772.8 L1012.6,772.1 L1014.8,771.5 L1016.9,771.0 L1019.1,770.4 L1021.2,769.8 L1023.4,769.5 L1026.4,769.2 L1029.5,768.9 L1032.5,768.9 L1035.5,769.2 L1038.4,769.4 L1041.1,769.6 L1043.6,769.8 L1045.8,770.0 L1047.7,770.2 L1052.0,770.8 L1054.0,771.8 L1057.2,773.3 L1060.0,776.2 L1060.9,778.2 L1061.7,780.4 L1062.4,782.8 L1063.1,785.5 L1063.8,788.6 L1064.3,791.0 L1064.8,793.7 L1065.3,796.7 L1065.8,799.7 L1066.4,802.6 L1067.0,805.3 L1067.7,807.9 L1068.6,810.8 L1069.6,813.4 L1070.7,815.7 L1071.8,818.0 L1073.1,820.2 L1074.4,822.5 L1075.9,824.7 L1077.5,826.8 L1079.2,828.8 L1080.9,830.8 L1082.5,832.7 L1084.0,834.7 L1085.6,836.9 L1087.0,839.0 L1088.4,841.3 L1089.6,843.7 L1090.7,846.4 L1091.6,849.0 L1092.4,851.5 L1093.0,854.5 L1093.7,857.6 L1094.5,860.5 L1095.2,862.7 L1096.0,865.0 L1096.7,867.2 L1097.5,869.5 L1098.4,872.0 L1099.3,875.0 L1100.0,877.5 L1100.8,880.0 L1101.6,882.6 L1102.5,885.5 L1103.3,888.3 L1104.1,890.8 L1104.9,893.2 L1105.5,895.3 L1106.0,897.0 L1107.0,900.2 L1107.4,901.9 L1108.0,903.7 L1108.6,906.0 L1109.3,908.6 L1110.0,911.4 L1110.8,914.2 L1111.5,917.2 L1112.2,920.1 L1112.8,923.2 L1113.3,925.8 L1113.7,928.4 L1114.2,931.0 L1114.6,933.4 L1115.0,936.0 L1115.4,938.9 L1115.8,941.7 L1116.3,944.2 L1116.7,947.0 L1117.1,949.9 L1117.5,952.6 L1117.9,955.2 L1118.3,957.8 L1118.8,960.3 L1119.2,962.8 L1119.6,965.6 L1120.0,968.3 L1120.4,970.9 L1120.8,973.6 L1121.3,976.3 L1121.7,978.9 L1122.1,981.4 L1122.5,983.9 L1122.9,986.6 L1123.4,989.3 L1123.8,991.9 L1124.2,994.4 L1124.7,997.1 L1125.1,1000.0 L1125.5,1002.6 L1126.0,1005.0 L1126.4,1007.6 L1126.8,1010.3 L1127.2,1013.1 L1127.7,1015.8 L1128.1,1018.8 L1128.5,1021.9 L1129.0,1024.7 L1129.4,1027.4 L1129.8,1030.1 L1130.2,1032.6 L1130.6,1035.0 L1131.0,1037.3 L1131.4,1039.4 L1132.3,1044.1 L1133.1,1047.7 L1134.0,1050.3 L1134.9,1051.3 L1136.3,1050.5 L1137.8,1047.6 L1139.6,1043.4 L1140.3,1041.4 L1141.1,1038.9 L1142.0,1036.4 L1142.8,1034.0 L1143.7,1031.3 L1144.6,1028.5 L1145.6,1025.8 L1146.5,1023.3 L1147.5,1021.2 L1148.5,1019.0 L1149.5,1016.8 L1150.6,1014.4 L1151.7,1011.9 L1152.7,1009.8 L1153.7,1007.4 L1154.7,1004.7 L1155.5,1002.6 L1156.3,1000.5 L1157.1,997.9 L1157.9,994.9 L1158.7,991.9 L1159.4,989.1 L1160.2,986.3 L1160.9,983.7 L1161.7,981.5 L1162.5,978.8 L1163.2,975.7 L1164.0,973.1 L1164.8,970.7 L1165.5,967.9 L1166.3,965.1 L1167.1,962.5 L1167.8,960.0 L1168.6,957.8 L1170.0,954.7 L1171.3,952.1 L1172.6,949.6 L1174.1,947.3 L1175.6,945.1 L1178.6,942.7 L1181.8,941.5 L1184.9,941.4 L1187.7,942.2 L1190.4,943.6 L1193.1,946.0 L1194.5,947.9 L1195.8,950.3 L1197.2,953.1 L1198.6,955.7 L1199.9,958.1 L1201.2,960.2 L1204.8,962.5 L1208.2,962.9 L1211.8,961.5 L1215.2,960.6 L1216.8,961.7 L1218.2,964.1 L1219.7,966.7 L1221.0,969.6 L1222.0,972.5 L1222.9,975.4 L1223.8,978.2 L1224.7,980.8 L1225.7,983.3 L1226.8,986.1 L1227.8,989.1 L1229.0,991.9 L1230.2,994.1 L1231.5,996.2 L1233.4,998.3 L1235.5,999.8 L1237.7,1001.7 L1239.6,1003.5 L1241.2,1005.1 L1242.7,1007.0 L1244.1,1009.2 L1245.4,1011.7 L1246.2,1013.8 L1247.0,1016.2 L1247.8,1019.0 L1248.5,1021.8 L1249.3,1024.8 L1250.1,1028.0 L1250.8,1030.6 L1251.6,1033.2 L1252.3,1035.8 L1253.1,1038.3 L1253.9,1041.2 L1254.6,1044.2 L1255.4,1047.2 L1256.0,1049.8 L1256.6,1052.3 L1257.2,1054.7 L1257.7,1057.2 L1258.3,1060.2 L1258.9,1063.5 L1259.5,1066.2 L1260.2,1068.1 L1260.8,1070.2 L1261.7,1073.6 L1262.6,1077.5 L1263.5,1081.0 L1264.5,1083.8 L1265.4,1086.5 L1266.4,1088.4 L1267.3,1088.9 L1268.4,1088.6 L1269.4,1087.2 L1270.5,1084.4 L1271.6,1081.2 L1272.6,1078.0 L1273.7,1074.6 L1274.3,1072.1 L1274.9,1069.5 L1275.4,1067.3 L1276.0,1065.0 L1276.6,1062.0 L1277.2,1059.0 L1277.8,1056.4 L1278.3,1053.9 L1278.9,1051.5 L1279.6,1049.3 L1280.2,1046.8 L1281.2,1043.5 L1282.2,1040.8 L1283.2,1038.5 L1284.3,1036.2 L1285.4,1033.6 L1286.5,1031.6 L1287.8,1030.2 L1289.4,1028.2 L1291.2,1026.1 L1293.1,1024.1 L1295.0,1022.3 L1296.8,1020.8 L1298.6,1019.3 L1300.3,1017.2 L1302.0,1014.8 L1303.7,1012.5 L1305.3,1010.5 L1306.9,1008.6 L1308.3,1006.6 L1310.2,1003.5 L1311.8,1000.7 L1313.3,998.5 L1314.8,997.6 L1316.9,998.2 L1318.9,1000.7 L1321.2,1004.8 L1322.2,1006.7 L1323.2,1009.2 L1324.3,1012.1 L1325.5,1014.9 L1326.6,1017.9 L1327.8,1020.8 L1328.9,1023.1 L1329.9,1025.2 L1331.0,1027.9 L1332.2,1031.1 L1333.3,1033.8 L1334.3,1036.2 L1335.4,1038.5 L1336.4,1040.5 L1337.4,1042.5 L1338.8,1045.6 L1340.1,1048.8 L1341.3,1051.3 L1342.6,1052.6 L1343.9,1053.2 L1345.5,1052.9 L1347.1,1051.3 L1348.7,1049.0 L1350.4,1045.5 L1351.2,1043.1 L1352.0,1040.5 L1352.8,1038.3 L1353.6,1036.2 L1354.4,1033.7 L1355.3,1031.3 L1356.1,1028.5 L1357.0,1025.7 L1357.9,1023.2 L1358.8,1020.9 L1359.8,1018.6 L1360.7,1016.3 L1361.7,1014.2 L1362.7,1011.8 L1363.7,1009.0 L1364.7,1006.1 L1365.6,1003.8 L1366.6,1002.0 L1367.7,999.5 L1368.8,996.6 L1369.8,993.8 L1370.9,991.0 L1372.0,988.2 L1373.1,986.1 L1374.1,984.5 L1375.2,982.6 L1377.2,979.2 L1379.2,976.8 L1381.3,975.1 L1383.8,973.5 L1386.2,972.4 L1389.0,970.8 L1391.9,969.1 L1394.5,968.3 L1396.8,968.3 L1398.9,969.1 L1400.6,971.2 L1402.0,974.0 L1403.3,976.4 L1404.9,980.1 L1406.2,984.2 L1407.6,986.0 L1408.9,984.8 L1410.2,982.7 L1411.6,980.0 L1413.0,976.9 L1413.9,974.8 L1414.7,972.9 L1415.5,970.3 L1416.4,967.5 L1417.3,965.4 L1418.4,963.1 L1420.0,960.3 L1421.9,958.2 L1423.9,956.6 L1425.7,954.7 L1427.0,952.1 L1427.6,949.2 L1427.8,946.6 L1427.7,944.1 L1427.9,941.1 L1428.6,938.3 L1429.5,936.6 L1430.7,934.4 L1432.0,932.1 L1433.4,929.8 L1435.0,927.5 L1436.6,925.5 L1438.3,923.7 L1440.1,922.1 L1442.0,920.3 L1444.1,918.8 L1446.2,917.1 L1448.3,915.6 L1450.4,914.1 L1452.4,912.4 L1454.6,910.7 L1456.9,909.0 L1459.1,906.5 L1461.2,904.4 L1463.3,903.0 L1465.3,901.7 L1467.6,899.7 L1469.9,897.6 L1472.0,895.9 L1474.1,894.5 L1476.1,892.8 L1477.9,890.8 L1479.6,888.7 L1481.3,886.6 L1483.0,884.6 L1484.8,882.6 L1486.8,881.5 L1488.9,880.0 L1491.0,877.9 L1493.3,876.0 L1495.6,874.1 L1497.7,872.5 L1499.8,871.2 L1502.0,869.8 L1504.3,868.4 L1506.4,867.5 L1508.5,866.7 L1511.4,866.5 L1514.2,868.4 L1516.8,871.1 L1519.3,871.6 L1521.6,870.2 L1523.6,868.0 L1525.6,865.6 L1527.9,864.1 L1530.5,862.9 L1533.3,861.4 L1536.1,860.1 L1538.7,859.1 L1541.8,858.7 L1544.6,859.2 L1547.4,859.6 L1549.5,858.6 L1551.6,856.1 L1553.8,853.9 L1556.0,852.5 L1558.4,852.3 L1560.9,853.6 L1563.3,855.6 L1565.7,855.7 L1567.4,853.8 L1569.0,851.5 L1570.6,848.9 L1572.3,846.0 L1574.3,843.5 L1576.6,842.2 L1579.1,841.5 L1581.8,840.7 L1584.6,839.3 L1587.3,838.0 L1590.2,837.5 L1593.2,836.8 L1596.3,835.9 L1599.0,835.1 L1601.3,834.4 L1603.8,835.8 L1605.3,838.3 L1606.7,841.0 L1607.3,843.0 L1607.9,845.8 L1608.4,848.6 L1608.9,851.7 L1609.5,853.9 L1610.1,856.5 L1611.0,859.0 L1613.0,861.3 L1615.5,863.5 L1618.0,865.4 L1620.0,865.2 L1620.9,863.3 L1621.5,861.1 L1621.9,858.8 L1622.5,855.5 L1623.7,852.5 L1626.1,851.1 L1629.1,851.3 L1632.4,852.2 L1635.7,853.3 L1637.6,854.5 L1639.7,856.6 L1641.8,859.3 L1643.9,861.2 L1645.9,862.4 L1647.9,864.0 L1649.7,865.0 L1651.3,863.9 L1652.8,861.4 L1654.2,858.7 L1655.5,855.5 L1656.8,852.2 L1658.2,849.9 L1659.7,849.0 L1662.6,849.5 L1665.7,851.1 L1668.8,852.3 L1671.7,852.3 L1674.1,851.3 L1676.3,849.4 L1678.6,847.1 L1681.6,845.6 L1683.8,844.8 L1686.4,843.6 L1689.2,843.1 L1692.0,843.3 L1694.8,842.8 L1697.4,842.5 L1699.6,842.6 L1702.7,841.5 L1705.1,840.4 L1707.3,840.0 L1709.6,840.4 L1711.9,841.2 L1714.1,843.1 L1716.5,845.4 L1719.6,846.9 L1721.8,847.6 L1724.4,848.9 L1727.2,851.1 L1730.0,852.8 L1732.8,853.5 L1735.4,854.7 L1737.6,855.0 L1739.9,853.8 L1741.6,852.2 L1743.1,849.7 L1744.9,847.7 L1747.5,847.1 L1749.8,846.7 L1752.4,845.9 L1755.4,846.0 L1758.5,847.1 L1761.6,847.4 L1764.6,847.0 L1767.2,847.3 L1769.5,848.2 L1772.7,848.2 L1774.9,847.3 L1776.9,846.4 L1779.5,845.5 L1781.9,845.1 L1784.5,844.0 L1787.4,842.0 L1790.2,840.5 L1793.0,840.2 L1795.5,840.8 L1797.4,841.8 L1799.3,844.0 L1801.0,847.9 L1802.6,851.3 L1804.3,853.5 L1805.8,855.4 L1807.4,856.2 L1809.3,855.2 L1811.2,853.5 L1813.1,850.6 L1814.9,847.3 L1816.3,844.8 L1817.4,843.9" fill="none" stroke="#0c0864" stroke-width="9.4" stroke-linejoin="round" stroke-linecap="butt"/>
<path d="M134.9,940.7 L136.7,940.7 L139.1,940.9 L142.0,941.0 L145.2,941.0 L148.4,941.1 L151.5,941.2 L154.3,941.6 L157.1,942.0 L159.6,942.3 L162.1,942.6 L164.6,942.7 L167.4,942.8 L170.5,942.4 L172.6,941.9 L174.8,941.3 L177.2,940.9 L179.6,940.5 L182.2,939.8 L184.7,939.1 L187.3,938.3 L189.8,937.5 L192.3,936.8 L194.8,936.0 L197.2,934.8 L199.6,933.9 L202.1,933.0 L204.5,931.8 L206.9,930.5 L209.3,929.4 L211.7,928.4 L214.2,927.3 L216.6,926.3 L219.0,925.5 L221.4,924.6 L223.9,923.7 L226.3,922.8 L228.7,922.0 L231.1,921.2 L233.6,920.2 L236.0,919.5 L238.4,918.8 L240.9,917.9 L243.3,917.2 L246.0,916.6 L248.7,915.8 L251.4,915.1 L254.1,914.5 L256.8,914.0 L259.5,913.4 L262.2,913.0 L264.9,912.3 L267.6,911.4 L270.3,910.8 L273.0,910.4 L275.7,909.9 L278.4,909.2 L281.1,908.5 L283.8,907.9 L286.5,907.4 L289.2,907.0 L291.9,906.6 L294.6,906.1 L297.5,905.7 L300.3,905.4 L303.1,904.8 L306.0,904.2 L308.7,903.9 L311.3,903.7 L313.9,903.5 L316.2,903.4 L319.4,903.9 L322.4,904.5 L325.2,905.1 L327.8,905.8 L330.2,906.7 L332.4,907.4 L335.3,908.8 L337.7,910.6 L339.8,912.6 L342.1,914.7 L344.0,916.7 L345.8,919.0 L347.7,921.1 L349.7,922.9 L351.8,923.9 L354.2,924.0 L356.7,923.4 L359.4,922.3 L362.1,921.2 L364.7,920.5 L367.3,919.4 L369.8,918.0 L372.4,916.7 L375.0,915.6 L377.7,915.0 L380.5,915.1 L383.3,915.6 L386.3,916.3 L389.3,916.9 L392.3,917.1 L395.0,916.8 L397.8,915.9 L400.6,914.7 L403.4,913.5 L406.1,912.5 L408.5,911.8 L411.4,911.1 L413.6,910.8 L416.2,910.5 L420.0,909.9 L421.8,909.4 L423.4,908.8 L424.9,908.1 L426.6,907.5 L428.5,906.8 L430.8,906.0 L433.6,905.3 L436.9,904.8 L441.0,904.5 L445.9,904.3 L447.6,904.2 L449.5,904.0 L451.5,903.9 L453.6,904.0 L455.8,903.9 L458.0,903.6 L460.4,903.5 L462.9,903.7 L465.4,903.7 L468.0,903.6 L470.6,903.7 L473.3,903.6 L476.0,903.5 L478.8,903.6 L481.6,903.6 L484.5,903.6 L487.3,903.7 L490.2,903.6 L493.1,903.5 L495.9,903.6 L498.8,903.6 L501.7,903.8 L504.5,903.9 L507.3,903.7 L510.1,903.6 L512.8,903.8 L515.5,904.0 L518.1,904.0 L520.7,904.0 L523.1,904.0 L525.6,904.0 L527.9,904.0 L530.8,904.2 L533.6,904.3 L536.3,904.3 L539.0,904.2 L541.6,904.4 L544.2,904.8 L546.7,904.8 L549.2,904.7 L551.6,904.8 L554.0,904.9 L556.4,904.9 L558.8,905.1 L561.2,905.4 L563.6,905.5 L566.1,905.4 L568.5,905.6 L571.0,905.9 L573.5,906.2 L576.0,906.3 L578.6,906.3 L581.3,906.3 L584.0,906.3 L586.8,906.2 L589.7,906.2 L592.7,906.1 L594.9,906.1 L597.3,906.0 L599.6,906.2 L602.0,906.4 L604.4,906.3 L606.9,906.4 L609.4,906.5 L612.0,906.4 L614.6,906.4 L617.2,906.4 L619.8,906.1 L622.4,906.0 L625.1,906.2 L627.8,906.2 L630.5,906.2 L633.2,906.2 L635.9,906.2 L638.5,906.2 L641.2,906.2 L643.9,906.1 L646.6,905.9 L649.3,905.7 L651.9,905.7 L654.5,905.6 L657.1,905.6 L659.7,905.7 L662.3,905.7 L664.8,905.6 L667.3,905.4 L669.7,905.2 L672.1,905.1 L674.4,905.0 L676.8,905.0 L679.0,905.1 L682.0,905.1 L685.1,905.1 L688.1,904.9 L691.2,904.7 L694.2,904.4 L697.2,904.3 L700.3,904.1 L703.2,903.9 L706.2,903.8 L709.1,903.9 L712.0,903.7 L714.8,903.5 L717.6,903.3 L720.3,902.9 L722.9,902.7 L725.4,902.8 L727.9,902.7 L730.3,902.4 L732.5,902.5 L734.7,902.5 L736.8,902.2 L738.7,902.0 L740.5,901.8 L742.2,901.8 L743.8,902.0 L750.2,902.2 L752.4,902.5 L752.7,903.3 L753.5,905.0 L754.6,907.1 L755.4,909.5 L756.1,912.2 L756.9,915.1 L757.7,917.6 L758.9,919.4 L761.1,920.2 L763.6,920.0 L766.4,919.2 L769.7,918.0 L771.9,917.2 L774.3,916.3 L776.9,915.5 L779.5,914.7 L782.2,913.7 L784.7,912.5 L787.0,911.6 L789.9,910.8 L792.7,909.8 L795.2,909.0 L797.7,908.4 L800.0,907.9 L802.0,907.3 L803.2,906.5 L805.3,905.7 L809.7,905.3 L811.4,905.2 L813.4,905.2 L815.5,905.3 L817.7,905.5 L820.1,905.6 L822.7,905.7 L825.4,905.9 L828.1,906.1 L830.9,906.1 L833.8,906.1 L836.8,906.3 L839.7,906.6 L842.7,906.6 L845.7,906.5 L848.6,906.4 L850.9,906.4 L853.3,906.6 L855.8,906.9 L858.3,907.0 L860.9,907.3 L863.5,907.4 L866.1,907.3 L868.8,907.3 L871.4,907.5 L874.1,907.4 L876.8,907.4 L879.4,907.6 L882.0,907.6 L884.7,907.6 L887.2,907.7 L889.8,907.7 L892.3,907.7 L894.7,907.7 L897.1,907.6 L899.9,907.6 L902.5,907.4 L905.2,906.9 L907.8,906.4 L910.3,906.2 L912.9,906.0 L915.4,905.5 L917.9,905.1 L920.3,904.8 L922.8,904.6 L925.2,904.1 L927.7,903.7 L930.1,903.5 L932.6,903.3 L935.1,903.3 L937.6,903.6 L940.1,903.8 L942.7,903.9 L945.3,904.2 L947.9,904.8 L950.5,905.2 L953.1,905.5 L955.8,906.0 L958.4,906.7 L960.9,907.5 L963.5,908.2 L966.0,908.6 L968.5,909.0 L971.0,909.4 L973.4,909.7 L975.8,910.1 L978.1,910.3 L980.8,910.0 L983.5,909.8 L986.0,909.8 L988.5,909.5 L990.9,909.0 L993.3,908.6 L995.7,908.2 L998.1,907.7 L1000.4,907.1 L1002.9,906.7 L1005.3,906.5 L1007.9,906.3 L1010.5,906.0 L1013.1,905.7 L1015.8,905.5 L1018.7,905.2 L1021.6,904.8 L1024.6,904.6 L1027.6,904.6 L1030.5,904.4 L1033.4,904.2 L1036.2,904.1 L1038.9,903.9 L1041.5,904.0 L1043.8,904.2 L1045.9,904.3 L1047.7,904.3 L1051.4,904.9 L1053.6,906.1 L1055.0,907.7 L1056.0,909.7 L1057.4,912.6 L1058.3,914.4 L1059.1,916.4 L1060.0,918.9 L1060.8,921.6 L1061.7,924.3 L1062.5,926.9 L1063.2,929.3 L1064.0,932.0 L1064.8,934.6 L1065.5,936.8 L1066.6,939.8 L1067.5,942.5 L1068.5,944.9 L1069.4,947.3 L1070.6,950.0 L1072.0,953.0 L1073.0,955.1 L1074.2,957.2 L1075.5,959.6 L1076.9,962.1 L1078.3,964.6 L1079.7,967.2 L1081.1,969.8 L1082.5,972.2 L1083.7,974.8 L1084.9,977.1 L1086.1,979.6 L1087.2,982.2 L1088.2,984.5 L1089.2,986.8 L1090.2,989.4 L1091.1,991.8 L1092.1,994.3 L1093.0,997.3 L1094.0,1000.3 L1094.8,1002.6 L1095.5,1004.9 L1096.3,1007.3 L1097.1,1010.0 L1097.8,1012.6 L1098.6,1015.2 L1099.4,1018.0 L1100.1,1020.8 L1100.9,1023.5 L1101.6,1026.0 L1102.4,1028.4 L1103.1,1030.8 L1104.0,1033.5 L1104.8,1036.1 L1105.7,1038.6 L1106.5,1040.9 L1107.4,1043.0 L1108.2,1045.1 L1109.0,1047.5 L1109.8,1050.2 L1110.5,1053.0 L1111.3,1055.9 L1111.8,1057.8 L1112.3,1060.1 L1112.9,1062.5 L1113.4,1065.0 L1113.8,1067.5 L1114.3,1070.1 L1114.8,1072.9 L1115.3,1075.7 L1115.7,1078.4 L1116.2,1081.2 L1116.6,1083.8 L1117.1,1086.4 L1117.5,1089.1 L1117.9,1091.8 L1118.3,1094.4 L1118.6,1096.8 L1119.0,1099.2 L1119.3,1101.7 L1119.7,1104.4 L1120.0,1107.1 L1120.3,1109.7 L1120.6,1112.2 L1120.9,1114.9 L1121.2,1117.4 L1121.5,1119.9 L1121.8,1122.5 L1122.2,1124.8 L1122.5,1127.2 L1122.8,1129.7 L1123.2,1132.6 L1123.5,1135.1 L1123.9,1137.6 L1124.3,1140.4 L1124.6,1143.1 L1125.0,1145.8 L1125.4,1148.2 L1125.8,1150.7 L1126.1,1153.3 L1126.5,1155.8 L1126.9,1157.9 L1127.4,1160.1 L1127.8,1162.4 L1128.4,1165.2 L1129.0,1168.3 L1129.6,1171.6 L1130.2,1174.6 L1130.8,1177.4 L1131.5,1180.2 L1132.2,1182.6 L1132.9,1184.6 L1133.6,1186.0 L1134.3,1187.0 L1135.8,1187.4 L1137.4,1185.8 L1139.0,1183.0 L1140.7,1179.5 L1142.5,1175.7 L1143.3,1173.7 L1144.2,1171.6 L1145.1,1169.7 L1146.0,1167.6 L1146.9,1165.2 L1147.8,1162.7 L1148.7,1160.1 L1149.7,1157.4 L1150.6,1154.6 L1151.5,1152.0 L1152.4,1149.3 L1153.2,1146.9 L1153.9,1144.7 L1154.7,1142.3 L1155.5,1139.9 L1156.2,1137.3 L1157.0,1134.8 L1157.8,1132.6 L1158.5,1130.3 L1159.3,1127.5 L1160.0,1124.9 L1160.8,1122.9 L1161.5,1120.5 L1162.2,1118.0 L1163.0,1115.6 L1163.7,1113.0 L1164.4,1110.4 L1165.1,1107.5 L1165.7,1104.8 L1166.4,1102.5 L1167.1,1100.1 L1167.8,1097.6 L1168.6,1095.6 L1169.5,1093.7 L1170.5,1091.6 L1172.3,1089.2 L1174.4,1087.5 L1176.6,1085.7 L1178.9,1083.9 L1181.2,1083.1 L1183.3,1082.8 L1185.2,1082.5 L1188.0,1082.7 L1190.5,1083.9 L1192.7,1086.0 L1195.1,1088.4 L1196.7,1090.7 L1198.4,1093.5 L1200.0,1096.0 L1201.6,1098.2 L1203.3,1100.1 L1204.9,1101.2 L1207.4,1101.4 L1210.0,1100.7 L1212.4,1099.9 L1214.8,1100.2 L1216.5,1101.8 L1218.2,1103.7 L1219.8,1105.7 L1221.4,1108.2 L1223.0,1111.5 L1223.9,1113.8 L1224.8,1116.1 L1225.6,1118.4 L1226.5,1120.8 L1227.3,1123.4 L1228.2,1126.2 L1229.2,1128.9 L1230.1,1130.8 L1231.2,1132.4 L1233.0,1135.1 L1235.0,1137.3 L1237.1,1138.8 L1239.1,1139.9 L1241.0,1141.0 L1242.7,1142.7 L1244.3,1144.9 L1245.7,1146.6 L1246.9,1148.4 L1248.1,1150.6 L1249.3,1153.7 L1250.0,1155.8 L1250.6,1158.3 L1251.3,1160.9 L1251.9,1163.7 L1252.5,1166.0 L1253.2,1168.1 L1253.8,1170.8 L1254.5,1173.5 L1255.1,1176.0 L1255.8,1178.5 L1256.5,1180.9 L1257.1,1183.7 L1257.8,1186.5 L1258.5,1188.9 L1259.2,1191.4 L1259.9,1194.2 L1260.5,1196.8 L1261.2,1198.9 L1261.8,1201.1 L1262.4,1203.6 L1263.3,1207.6 L1264.1,1211.1 L1264.8,1214.1 L1265.6,1217.0 L1266.4,1219.4 L1267.3,1220.6 L1268.5,1220.2 L1269.8,1217.9 L1271.2,1214.3 L1272.6,1211.0 L1273.9,1208.3 L1275.2,1206.1 L1276.5,1203.8 L1277.7,1201.0 L1278.9,1197.9 L1280.0,1194.8 L1280.7,1192.5 L1281.2,1190.2 L1281.8,1187.6 L1282.3,1184.7 L1282.8,1182.2 L1283.4,1180.1 L1284.1,1178.0 L1285.5,1175.5 L1287.0,1173.6 L1288.8,1171.3 L1291.0,1168.6 L1292.5,1166.8 L1294.1,1164.6 L1295.9,1162.1 L1297.7,1160.1 L1299.6,1158.2 L1301.5,1155.6 L1303.3,1153.2 L1305.1,1151.2 L1306.9,1148.6 L1308.8,1145.6 L1310.6,1143.2 L1312.4,1141.6 L1314.1,1140.4 L1315.6,1139.4 L1317.5,1139.5 L1319.2,1141.0 L1320.7,1143.1 L1322.2,1145.7 L1323.8,1149.0 L1324.8,1151.2 L1325.9,1153.5 L1326.9,1156.1 L1328.0,1158.9 L1329.0,1161.7 L1330.0,1164.7 L1331.0,1167.4 L1332.0,1169.8 L1333.1,1172.3 L1334.1,1174.9 L1335.1,1177.9 L1336.1,1180.6 L1337.1,1182.9 L1338.0,1184.7 L1338.9,1186.2 L1340.8,1189.2 L1342.4,1191.1 L1344.3,1191.8 L1346.4,1190.7 L1348.7,1188.1 L1351.2,1184.7 L1352.3,1183.0 L1353.4,1180.7 L1354.5,1178.2 L1355.7,1175.7 L1356.9,1173.1 L1358.1,1170.2 L1359.4,1167.0 L1360.4,1164.5 L1361.4,1162.2 L1362.5,1160.1 L1363.6,1157.9 L1364.7,1155.7 L1365.7,1153.3 L1366.8,1150.7 L1367.9,1148.5 L1369.0,1146.7 L1370.4,1143.8 L1371.7,1141.0 L1373.0,1138.8 L1374.4,1136.7 L1375.8,1133.9 L1377.2,1131.5 L1378.6,1130.0 L1380.7,1127.8 L1383.0,1126.0 L1385.3,1124.8 L1387.5,1123.9 L1389.5,1122.9 L1392.5,1121.3 L1395.3,1120.3 L1397.7,1120.3 L1399.7,1122.3 L1401.5,1125.6 L1403.2,1128.6 L1405.0,1131.9 L1406.8,1135.0 L1408.7,1136.4 L1410.2,1136.1 L1411.8,1134.6 L1413.6,1131.9 L1415.5,1128.6 L1416.7,1126.7 L1418.0,1124.8 L1419.4,1122.3 L1420.8,1119.4 L1422.3,1116.9 L1423.7,1114.7 L1425.1,1112.2 L1426.5,1109.6 L1427.8,1107.1 L1429.2,1104.5 L1430.6,1102.3 L1432.0,1100.1 L1433.3,1097.4 L1434.7,1095.2 L1436.6,1093.2 L1438.3,1091.2 L1440.2,1089.0 L1442.1,1087.1 L1444.3,1084.7 L1446.0,1082.8 L1447.9,1081.1 L1449.9,1079.0 L1451.9,1077.3 L1454.0,1076.1 L1456.0,1074.7 L1458.0,1072.7 L1459.9,1070.7 L1461.8,1069.2 L1463.7,1068.3 L1465.6,1067.3 L1467.6,1065.9 L1469.6,1064.0 L1471.7,1061.5 L1473.2,1059.8 L1474.8,1057.9 L1476.4,1056.0 L1478.1,1054.4 L1479.7,1052.4 L1481.4,1050.1 L1483.1,1047.7 L1484.7,1045.5 L1486.4,1043.7 L1488.0,1042.2 L1489.8,1040.3 L1491.6,1038.5 L1493.3,1036.4 L1495.1,1034.4 L1496.8,1031.9 L1498.6,1029.4 L1500.4,1028.2 L1502.1,1027.4 L1503.9,1026.0 L1506.6,1024.5 L1509.4,1024.7 L1512.3,1026.2 L1515.0,1027.6 L1517.6,1028.4 L1519.9,1028.0 L1522.2,1025.6 L1524.0,1023.2 L1525.8,1021.1 L1527.6,1018.7 L1529.9,1016.6 L1532.2,1015.2 L1534.9,1014.1 L1537.7,1014.3 L1540.5,1014.4 L1543.3,1014.0 L1545.9,1013.7 L1548.8,1013.3 L1551.5,1012.6 L1554.2,1011.7 L1556.9,1011.4 L1559.8,1010.7 L1562.0,1009.4 L1564.3,1008.1 L1566.6,1007.1 L1569.0,1005.9 L1571.3,1004.0 L1573.6,1001.8 L1575.8,1000.7 L1578.2,999.7 L1580.5,998.6 L1582.8,997.4 L1585.1,995.5 L1587.4,993.5 L1589.8,992.5 L1592.5,992.3 L1595.4,991.8 L1598.3,990.7 L1601.1,990.7 L1603.7,991.8 L1605.8,992.3 L1607.4,992.9 L1608.5,994.5 L1609.4,996.6 L1610.2,999.8 L1610.9,1003.2 L1611.8,1005.5 L1612.4,1007.5 L1613.1,1010.9 L1613.7,1014.2 L1614.3,1017.4 L1614.9,1020.9 L1615.6,1023.8 L1616.2,1025.9 L1617.0,1027.3 L1617.7,1027.8 L1618.9,1026.9 L1620.1,1025.1 L1621.4,1022.7 L1622.8,1019.5 L1624.2,1015.8 L1625.7,1012.7 L1628.0,1010.4 L1630.5,1009.5 L1633.0,1009.1 L1635.7,1009.2 L1637.3,1010.4 L1639.0,1012.5 L1640.7,1014.5 L1642.5,1016.8 L1644.2,1019.5 L1646.0,1021.7 L1647.7,1022.5 L1649.6,1021.7 L1651.4,1019.4 L1653.2,1017.0 L1655.1,1015.5 L1657.2,1013.7 L1659.7,1011.6 L1661.8,1010.8 L1664.0,1010.7 L1666.4,1010.2 L1668.9,1009.7 L1671.5,1009.1 L1674.2,1008.5 L1676.9,1008.7 L1679.6,1009.1 L1682.1,1008.9 L1684.8,1007.9 L1687.7,1006.3 L1690.5,1004.9 L1693.4,1004.2 L1696.2,1004.0 L1698.9,1004.2 L1701.3,1003.5 L1703.6,1002.5 L1707.1,1002.1 L1710.2,1002.7 L1712.9,1004.4 L1715.3,1005.7 L1717.6,1006.1 L1719.9,1007.7 L1721.6,1009.8 L1723.3,1011.5 L1725.6,1013.5 L1727.6,1015.1 L1730.0,1016.1 L1732.5,1017.2 L1735.0,1018.6 L1737.4,1019.5 L1739.6,1020.3 L1742.1,1019.8 L1744.2,1017.5 L1746.4,1015.6 L1749.5,1014.5 L1751.6,1014.4 L1754.0,1013.8 L1756.7,1013.0 L1759.5,1013.0 L1762.3,1013.1 L1765.0,1012.6 L1767.4,1012.2 L1769.5,1011.8 L1772.7,1011.9 L1775.1,1012.3 L1777.2,1011.2 L1779.5,1009.2 L1782.0,1007.4 L1784.5,1006.4 L1787.0,1006.0 L1789.5,1005.4 L1792.0,1005.7 L1794.6,1007.1 L1797.1,1008.0 L1799.5,1008.5 L1801.6,1010.4 L1803.5,1014.0 L1805.3,1016.8 L1807.4,1017.3 L1810.0,1016.2 L1812.9,1014.8 L1815.6,1013.2 L1817.4,1011.9" fill="none" stroke="#6a12d0" stroke-width="9.4" stroke-linejoin="round" stroke-linecap="butt"/>
<rect x="124" y="18" width="11" height="1243" fill="#000"/>
<rect x="1817" y="18" width="11" height="1243" fill="#000"/>
<rect x="124" y="18" width="1704" height="11" fill="#000"/>
<rect x="124" y="1252.5" width="1704" height="8.6" fill="#000"/>
<rect x="1787.8" y="1258" width="9.6" height="24" fill="#000"/>
<rect x="1639.3" y="1258" width="9.6" height="10" fill="#000"/>
<rect x="1490.9" y="1258" width="9.6" height="24" fill="#000"/>
<rect x="1342.4" y="1258" width="9.6" height="10" fill="#000"/>
<rect x="1194.0" y="1258" width="9.6" height="24" fill="#000"/>
<rect x="1045.5" y="1258" width="9.6" height="10" fill="#000"/>
<rect x="897.0" y="1258" width="9.6" height="24" fill="#000"/>
<rect x="748.6" y="1258" width="9.6" height="10" fill="#000"/>
<rect x="600.1" y="1258" width="9.6" height="24" fill="#000"/>
<rect x="451.7" y="1258" width="9.6" height="10" fill="#000"/>
<rect x="303.2" y="1258" width="9.6" height="24" fill="#000"/>
<rect x="154.7" y="1258" width="9.6" height="10" fill="#000"/>
<text transform="matrix(0.6820,0,0,0.6650,239.10,1351.74)" style="font-family:'Liberation Serif','Times New Roman',serif;font-weight:bold;font-size:100px">3000</text>
<text transform="matrix(0.6820,0,0,0.6650,536.60,1351.74)" style="font-family:'Liberation Serif','Times New Roman',serif;font-weight:bold;font-size:100px">2500</text>
<text transform="matrix(0.6820,0,0,0.6650,832.40,1351.74)" style="font-family:'Liberation Serif','Times New Roman',serif;font-weight:bold;font-size:100px">2000</text>
<text transform="matrix(0.6820,0,0,0.6650,1131.34,1351.74)" style="font-family:'Liberation Serif','Times New Roman',serif;font-weight:bold;font-size:100px">1500</text>
<text transform="matrix(0.6820,0,0,0.6650,1428.14,1351.74)" style="font-family:'Liberation Serif','Times New Roman',serif;font-weight:bold;font-size:100px">1000</text>
<text transform="matrix(0.6820,0,0,0.6650,1742.15,1351.74)" style="font-family:'Liberation Serif','Times New Roman',serif;font-weight:bold;font-size:100px">500</text>
<text transform="matrix(0.7321,0,0,0.6922,677.80,1434.46)" style="font-family:'Liberation Serif','Times New Roman',serif;font-weight:bold;font-size:100px">Wavenumber (cm</text>
<text transform="matrix(0.5462,0,0,0.5286,1235.00,1410.59)" style="font-family:'Liberation Serif','Times New Roman',serif;font-weight:bold;font-size:100px">&#8722;</text>
<text transform="matrix(0.4811,0,0,0.5405,1263.55,1404.60)" style="font-family:'Liberation Serif','Times New Roman',serif;font-weight:bold;font-size:100px">1</text>
<text transform="matrix(0.8231,0,0,0.7022,1287.83,1434.75)" style="font-family:'Liberation Serif','Times New Roman',serif;font-weight:bold;font-size:100px">)</text>
<text transform="matrix(0,-0.7292,0.7156,0,82.08,898.13)" style="font-family:'Liberation Sans',Arial,sans-serif;font-weight:bold;font-size:100px">Transmittance</text>
<text transform="matrix(0.6123,0,0,0.6074,160.20,113.19)" style="font-family:'Liberation Serif','Times New Roman',serif;font-weight:bold;font-size:100px">160</text>
<text transform="matrix(0.6800,0,0,0.6066,265.70,113.34)" style="font-family:'Liberation Serif','Times New Roman',serif;font-weight:normal;font-size:100px">&#176;</text>
<text transform="matrix(0.6370,0,0,0.6299,288.02,113.37)" style="font-family:'Liberation Serif','Times New Roman',serif;font-weight:bold;font-size:100px">C</text>
<text transform="matrix(0.6123,0,0,0.6074,168.00,258.09)" style="font-family:'Liberation Serif','Times New Roman',serif;font-weight:bold;font-size:100px">180</text>
<text transform="matrix(0.6800,0,0,0.6066,273.50,258.24)" style="font-family:'Liberation Serif','Times New Roman',serif;font-weight:normal;font-size:100px">&#176;</text>
<text transform="matrix(0.6370,0,0,0.6299,295.82,258.27)" style="font-family:'Liberation Serif','Times New Roman',serif;font-weight:bold;font-size:100px">C</text>
<text transform="matrix(0.6123,0,0,0.6074,164.95,386.69)" style="font-family:'Liberation Serif','Times New Roman',serif;font-weight:bold;font-size:100px">200</text>
<text transform="matrix(0.6800,0,0,0.6066,268.00,386.84)" style="font-family:'Liberation Serif','Times New Roman',serif;font-weight:normal;font-size:100px">&#176;</text>
<text transform="matrix(0.6370,0,0,0.6299,290.32,386.87)" style="font-family:'Liberation Serif','Times New Roman',serif;font-weight:bold;font-size:100px">C</text>
<text transform="matrix(0.6123,0,0,0.6074,171.55,504.99)" style="font-family:'Liberation Serif','Times New Roman',serif;font-weight:bold;font-size:100px">220</text>
<text transform="matrix(0.6800,0,0,0.6066,274.60,505.14)" style="font-family:'Liberation Serif','Times New Roman',serif;font-weight:normal;font-size:100px">&#176;</text>
<text transform="matrix(0.6370,0,0,0.6299,296.92,505.17)" style="font-family:'Liberation Serif','Times New Roman',serif;font-weight:bold;font-size:100px">C</text>
<text transform="matrix(0.6123,0,0,0.6074,178.25,623.59)" style="font-family:'Liberation Serif','Times New Roman',serif;font-weight:bold;font-size:100px">240</text>
<text transform="matrix(0.6800,0,0,0.6066,281.30,623.74)" style="font-family:'Liberation Serif','Times New Roman',serif;font-weight:normal;font-size:100px">&#176;</text>
<text transform="matrix(0.6370,0,0,0.6299,303.62,623.77)" style="font-family:'Liberation Serif','Times New Roman',serif;font-weight:bold;font-size:100px">C</text>
<text transform="matrix(0.6123,0,0,0.6074,177.05,757.99)" style="font-family:'Liberation Serif','Times New Roman',serif;font-weight:bold;font-size:100px">260</text>
<text transform="matrix(0.6800,0,0,0.6066,280.10,758.14)" style="font-family:'Liberation Serif','Times New Roman',serif;font-weight:normal;font-size:100px">&#176;</text>
<text transform="matrix(0.6370,0,0,0.6299,302.42,758.17)" style="font-family:'Liberation Serif','Times New Roman',serif;font-weight:bold;font-size:100px">C</text>
<text transform="matrix(0.6123,0,0,0.6074,179.35,882.19)" style="font-family:'Liberation Serif','Times New Roman',serif;font-weight:bold;font-size:100px">280</text>
<text transform="matrix(0.6800,0,0,0.6066,282.40,882.34)" style="font-family:'Liberation Serif','Times New Roman',serif;font-weight:normal;font-size:100px">&#176;</text>
<text transform="matrix(0.6370,0,0,0.6299,304.72,882.37)" style="font-family:'Liberation Serif','Times New Roman',serif;font-weight:bold;font-size:100px">C</text>
<text transform="matrix(0.6582,0,0,0.6636,536.27,1038.90)" style="font-family:'Liberation Serif','Times New Roman',serif;font-weight:bold;font-size:100px">2244</text>
<line x1="671" y1="1021.8" x2="722" y2="1021.8" stroke="#111" stroke-width="2.2"/>
<path d="M752,1021.6 Q736,1019 720,1013 L720,1028.6 Q736,1024 752,1021.6 Z" fill="#000"/>
<text transform="matrix(0.6665,0,0,0.6652,897.07,1213.83)" style="font-family:'Liberation Serif','Times New Roman',serif;font-weight:bold;font-size:100px">1607</text>
<line x1="1045" y1="1199.4" x2="1098" y2="1199.4" stroke="#000" stroke-width="2.5"/>
<path d="M1127.5,1199.4 Q1112,1196.5 1096,1189.7 L1096,1207.8 Q1112,1202.5 1127.5,1199.4 Z" fill="#000"/></svg>
</body></html>
